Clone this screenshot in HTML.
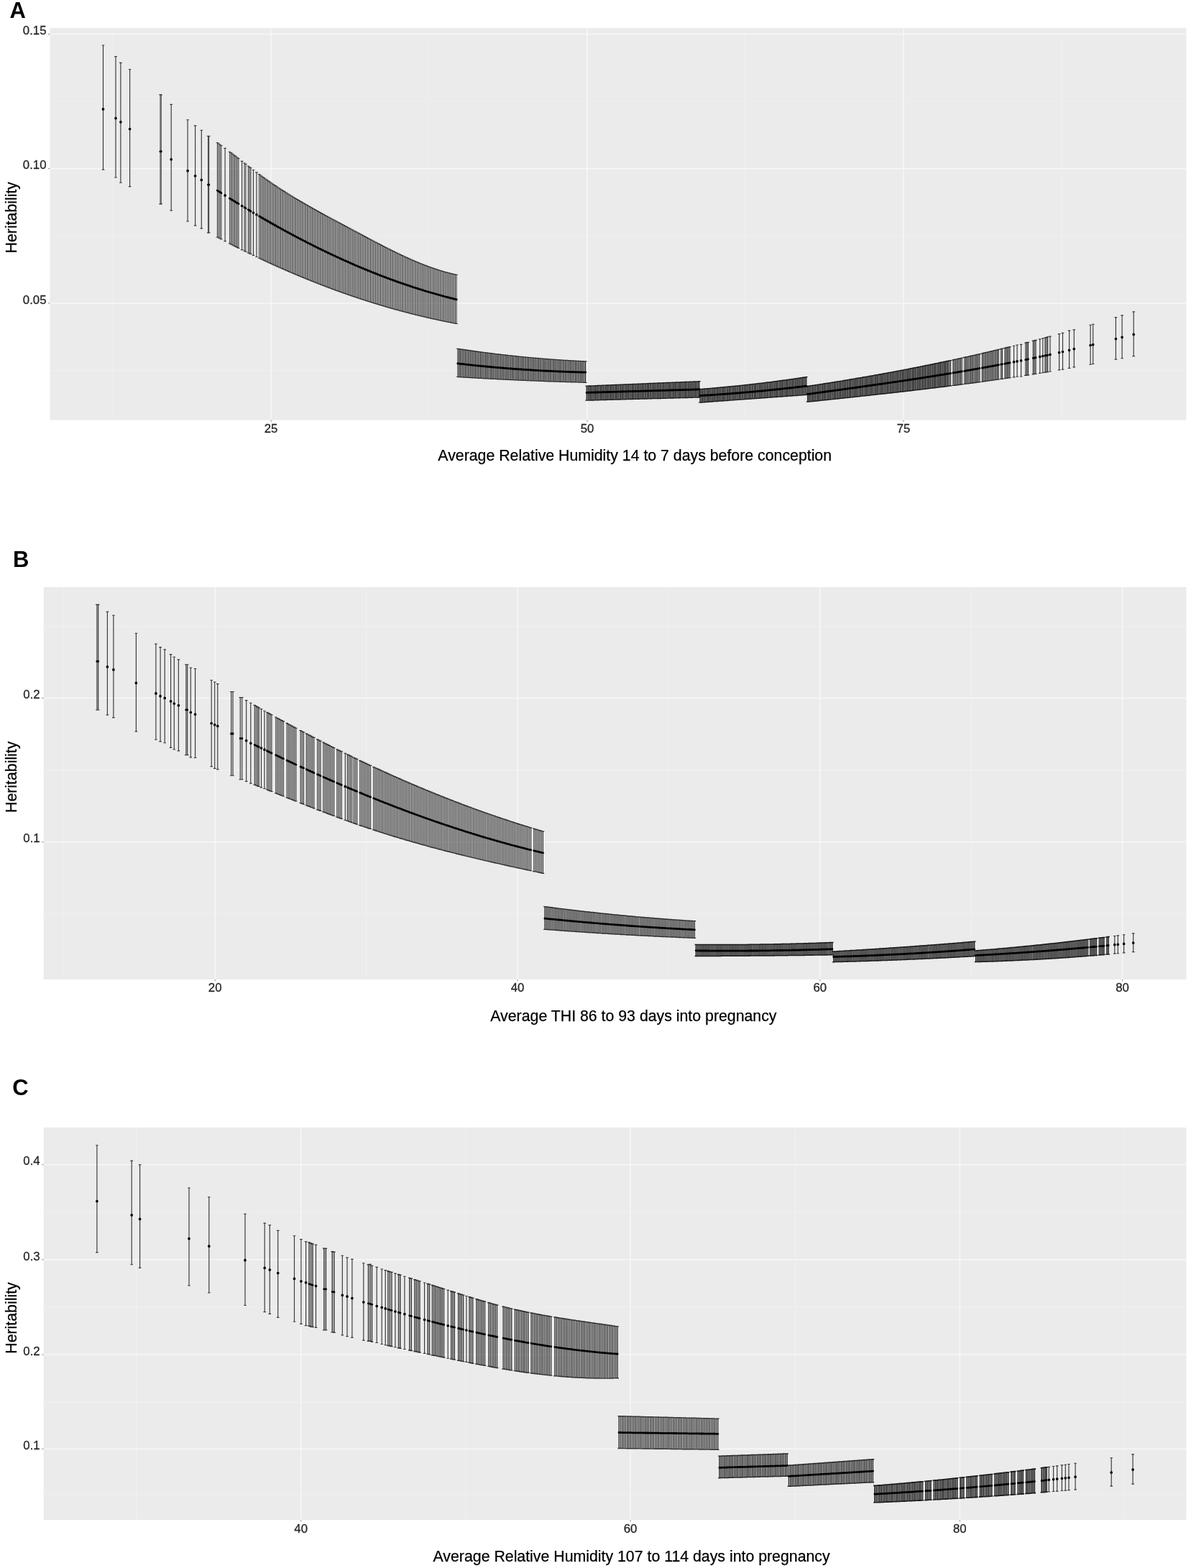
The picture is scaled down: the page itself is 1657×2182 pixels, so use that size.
<!DOCTYPE html>
<html><head><meta charset="utf-8"><title>Heritability figure</title>
<style>
html,body{margin:0;padding:0;background:#fff}
svg{display:block}
text{font-family:"Liberation Sans",sans-serif}
.t{font-size:16.8px;fill:#262626;stroke:#262626;stroke-width:0.3px}
.a{font-size:21.3px;fill:#000;stroke:#000;stroke-width:0.25px}
.L{font-size:31px;font-weight:bold;fill:#000}
</style></head><body>
<svg width="1657" height="2182" viewBox="0 0 1657 2182">
<rect width="1657" height="2182" fill="#fff"/>
<rect x="69.5" y="38.8" width="1580.9" height="545.8" fill="#ebebeb"/>
<path d="M157.1 38.8V584.6M597.1 38.8V584.6M1037 38.8V584.6M1477 38.8V584.6M69.5 515.5H1650.4M69.5 328.3H1650.4M69.5 141.1H1650.4" stroke="#f1f1f1" stroke-width="0.8" fill="none"/>
<path d="M377.1 38.8V584.6M817 38.8V584.6M1257 38.8V584.6M69.5 421.9H1650.4M69.5 234.7H1650.4M69.5 47.5H1650.4" stroke="#f7f7f7" stroke-width="1.5" fill="none"/>
<path d="M377.1 584.6v2.4M817 584.6v2.4M1257 584.6v2.4M69.5 421.9h-2.4M69.5 234.7h-2.4M69.5 47.5h-2.4" stroke="#888" stroke-width="1" fill="none"/>
<path d="M143.5 63V236.1M161 78.6V247M167.9 87.4V254.2M180.6 96.5V259.6M238.2 145.4V292.9M261.1 166.7V308M271.6 174.9V313.8M280.3 181.2V317.9M313.1 206.4V335.6M336.6 224.3V347.6M352.5 236.5V355.4M357 239.9V357.5M1410.6 481.2V524.9M1415.1 480V524.2M1420.6 479.3V524M1446.8 471.9V519.3M1450.8 470.8V518.7M1461 468.1V517M1473.6 464.6V514.9M1478.5 463.3V514.1M1487.6 460.1V512.3M1494.3 458.8V510.8M1517.1 452.2V507.2M1520.7 451.2V506.5M1552.4 441.6V500.1M1561.1 438.9V498.7M1577.2 433.9V495.6M141.7 63h3.6M141.7 236.1h3.6M159.2 78.6h3.6M159.2 247h3.6M166.1 87.4h3.6M166.1 254.2h3.6M178.8 96.5h3.6M178.8 259.6h3.6M236.4 145.4h3.6M236.4 292.9h3.6M259.3 166.7h3.6M259.3 308h3.6M269.8 174.9h3.6M269.8 313.8h3.6M278.5 181.2h3.6M278.5 317.9h3.6M311.3 206.4h3.6M311.3 335.6h3.6M334.8 224.3h3.6M334.8 347.6h3.6M350.7 236.5h3.6M350.7 355.4h3.6M355.2 239.9h3.6M355.2 357.5h3.6M1408.8 481.2h3.6M1408.8 524.9h3.6M1413.3 480h3.6M1413.3 524.2h3.6M1418.8 479.3h3.6M1418.8 524h3.6M1445 471.9h3.6M1445 519.3h3.6M1449 470.8h3.6M1449 518.7h3.6M1459.2 468.1h3.6M1459.2 517h3.6M1471.8 464.6h3.6M1471.8 514.9h3.6M1476.7 463.3h3.6M1476.7 514.1h3.6M1485.8 460.1h3.6M1485.8 512.3h3.6M1492.5 458.8h3.6M1492.5 510.8h3.6M1515.3 452.2h3.6M1515.3 507.2h3.6M1518.9 451.2h3.6M1518.9 506.5h3.6M1550.6 441.6h3.6M1550.6 500.1h3.6M1559.3 438.9h3.6M1559.3 498.7h3.6M1575.4 433.9h3.6M1575.4 495.6h3.6" stroke="#383838" stroke-width="1.15" fill="none"/>
<path d="M223 131.8V283.9M224.2 131.8V283.9M289.6 189.4V323.9M290.7 189.4V323.9M302.4 198.6V330M304.2 199.9V331M306 201.3V331.9M307.8 202.6V332.9M319.6 211.3V339M321.4 212.6V339.9M323.1 213.9V340.8M324.9 215.2V341.7M326.6 216.6V342.6M328.4 217.9V343.5M330.2 219.3V344.4M331.9 220.6V345.3M340.1 227V349.3M341.9 228.4V350.2M345.4 231.1V351.9M347.2 232.5V352.8M348.9 233.8V353.6M360.6 242.6V359.2M362.4 243.9V360M364.1 245.2V360.9M365.9 246.4V361.7M367.6 247.7V362.5M369.4 249V363.3M371.2 250.2V364.2M372.9 251.4V365M374.7 252.7V365.8M376.4 253.9V366.6M378.2 255.1V367.4M380 256.3V368.2M381.7 257.5V369M383.5 258.6V369.8M385.2 259.8V370.6M387 261V371.4M388.8 262.1V372.1M390.5 263.3V372.9M392.3 264.4V373.7M394 265.5V374.5M395.8 266.6V375.2M397.6 267.8V376M399.3 268.9V376.8M401.1 270V377.5M402.8 271.1V378.3M404.6 272.1V379.1M406.4 273.2V379.8M408.1 274.3V380.6M409.9 275.4V381.3M411.6 276.4V382.1M413.4 277.5V382.8M415.2 278.5V383.5M416.9 279.6V384.3M418.7 280.6V385M420.4 281.6V385.7M422.2 282.6V386.4M424 283.7V387.2M425.7 284.7V387.9M427.5 285.7V388.6M429.2 286.7V389.3M431 287.7V390M432.8 288.7V390.7M434.5 289.7V391.4M436.3 290.7V392.1M438 291.6V392.8M439.8 292.6V393.5M441.6 293.6V394.2M443.3 294.6V394.9M445.1 295.5V395.6M446.8 296.5V396.3M448.6 297.5V396.9M450.3 298.4V397.6M452.1 299.4V398.3M453.9 300.4V399M455.6 301.3V399.6M457.4 302.3V400.3M459.1 303.2V400.9M460.9 304.2V401.6M462.7 305.1V402.3M464.4 306V402.9M466.2 307V403.6M467.9 307.9V404.2M469.7 308.9V404.8M471.5 309.8V405.5M473.2 310.7V406.1M475 311.7V406.7M476.7 312.6V407.4M478.5 313.6V408M480.3 314.5V408.6M482 315.4V409.2M483.8 316.4V409.8M485.5 317.3V410.4M487.3 318.2V411.1M489.1 319.2V411.7M490.8 320.1V412.3M492.6 321.1V412.9M494.3 322V413.5M496.1 322.9V414M497.9 323.9V414.6M499.6 324.8V415.2M501.4 325.8V415.8M503.1 326.7V416.4M504.9 327.6V417M506.7 328.6V417.5M508.4 329.5V418.1M510.2 330.5V418.7M511.9 331.4V419.2M513.7 332.3V419.8M515.5 333.3V420.3M517.2 334.2V420.9M519 335.1V421.4M520.7 336.1V422M522.5 337V422.5M524.3 337.9V423.1M526 338.8V423.6M527.8 339.7V424.1M529.5 340.6V424.7M531.3 341.6V425.2M533.1 342.5V425.7M534.8 343.4V426.2M536.6 344.3V426.8M538.3 345.1V427.3M540.1 346V427.8M541.9 346.9V428.3M543.6 347.8V428.8M545.4 348.7V429.3M547.1 349.5V429.8M548.9 350.4V430.3M550.7 351.3V430.8M552.4 352.1V431.3M554.2 353V431.7M555.9 353.8V432.2M557.7 354.6V432.7M559.5 355.5V433.2M561.2 356.3V433.6M563 357.1V434.1M564.7 357.9V434.6M566.5 358.7V435M568.3 359.5V435.5M570 360.3V436M571.8 361.1V436.4M573.5 361.9V436.9M575.3 362.6V437.3M577.1 363.4V437.7M578.8 364.1V438.2M580.6 364.8V438.6M582.3 365.6V439M584.1 366.3V439.5M585.9 367V439.9M587.6 367.7V440.3M589.4 368.4V440.7M591.1 369.1V441.1M592.9 369.7V441.6M594.7 370.4V442M596.4 371.1V442.4M598.2 371.7V442.8M599.9 372.3V443.2M601.7 372.9V443.6M603.5 373.5V444M605.2 374.1V444.3M607 374.7V444.7M608.7 375.3V445.1M610.5 375.9V445.5M612.3 376.4V445.9M614 376.9V446.2M615.8 377.5V446.6M617.5 378V447M619.3 378.5V447.3M621.1 379V447.7M622.8 379.4V448M624.6 379.9V448.4M626.3 380.3V448.7M628.1 380.8V449.1M629.8 381.2V449.4M631.6 381.6V449.8M633.4 382V450.1M635.1 382.3V450.4M221.2 131.8h3.6M221.2 283.9h3.6M222.4 131.8h3.6M222.4 283.9h3.6M287.8 189.4h3.6M287.8 323.9h3.6M288.9 189.4h3.6M288.9 323.9h3.6M300.6 198.6h3.6M300.6 330h3.6M302.4 199.9h3.6M302.4 331h3.6M304.2 201.3h3.6M304.2 331.9h3.6M306 202.6h3.6M306 332.9h3.6M317.8 211.3h3.6M317.8 339h3.6M319.6 212.6h3.6M319.6 339.9h3.6M321.3 213.9h3.6M321.3 340.8h3.6M323.1 215.2h3.6M323.1 341.7h3.6M324.8 216.6h3.6M324.8 342.6h3.6M326.6 217.9h3.6M326.6 343.5h3.6M328.4 219.3h3.6M328.4 344.4h3.6M330.1 220.6h3.6M330.1 345.3h3.6M338.3 227h3.6M338.3 349.3h3.6M340.1 228.4h3.6M340.1 350.2h3.6M343.6 231.1h3.6M343.6 351.9h3.6M345.4 232.5h3.6M345.4 352.8h3.6M347.1 233.8h3.6M347.1 353.6h3.6M358.8 242.6h3.6M358.8 359.2h3.6M360.6 243.9h3.6M360.6 360h3.6M362.3 245.2h3.6M362.3 360.9h3.6M364.1 246.4h3.6M364.1 361.7h3.6M365.8 247.7h3.6M365.8 362.5h3.6M367.6 249h3.6M367.6 363.3h3.6M369.4 250.2h3.6M369.4 364.2h3.6M371.1 251.4h3.6M371.1 365h3.6M372.9 252.7h3.6M372.9 365.8h3.6M374.6 253.9h3.6M374.6 366.6h3.6M376.4 255.1h3.6M376.4 367.4h3.6M378.2 256.3h3.6M378.2 368.2h3.6M379.9 257.5h3.6M379.9 369h3.6M381.7 258.6h3.6M381.7 369.8h3.6M383.4 259.8h3.6M383.4 370.6h3.6M385.2 261h3.6M385.2 371.4h3.6M387 262.1h3.6M387 372.1h3.6M388.7 263.3h3.6M388.7 372.9h3.6M390.5 264.4h3.6M390.5 373.7h3.6M392.2 265.5h3.6M392.2 374.5h3.6M394 266.6h3.6M394 375.2h3.6M395.8 267.8h3.6M395.8 376h3.6M397.5 268.9h3.6M397.5 376.8h3.6M399.3 270h3.6M399.3 377.5h3.6M401 271.1h3.6M401 378.3h3.6M402.8 272.1h3.6M402.8 379.1h3.6M404.6 273.2h3.6M404.6 379.8h3.6M406.3 274.3h3.6M406.3 380.6h3.6M408.1 275.4h3.6M408.1 381.3h3.6M409.8 276.4h3.6M409.8 382.1h3.6M411.6 277.5h3.6M411.6 382.8h3.6M413.4 278.5h3.6M413.4 383.5h3.6M415.1 279.6h3.6M415.1 384.3h3.6M416.9 280.6h3.6M416.9 385h3.6M418.6 281.6h3.6M418.6 385.7h3.6M420.4 282.6h3.6M420.4 386.4h3.6M422.2 283.7h3.6M422.2 387.2h3.6M423.9 284.7h3.6M423.9 387.9h3.6M425.7 285.7h3.6M425.7 388.6h3.6M427.4 286.7h3.6M427.4 389.3h3.6M429.2 287.7h3.6M429.2 390h3.6M431 288.7h3.6M431 390.7h3.6M432.7 289.7h3.6M432.7 391.4h3.6M434.5 290.7h3.6M434.5 392.1h3.6M436.2 291.6h3.6M436.2 392.8h3.6M438 292.6h3.6M438 393.5h3.6M439.8 293.6h3.6M439.8 394.2h3.6M441.5 294.6h3.6M441.5 394.9h3.6M443.3 295.5h3.6M443.3 395.6h3.6M445 296.5h3.6M445 396.3h3.6M446.8 297.5h3.6M446.8 396.9h3.6M448.5 298.4h3.6M448.5 397.6h3.6M450.3 299.4h3.6M450.3 398.3h3.6M452.1 300.4h3.6M452.1 399h3.6M453.8 301.3h3.6M453.8 399.6h3.6M455.6 302.3h3.6M455.6 400.3h3.6M457.3 303.2h3.6M457.3 400.9h3.6M459.1 304.2h3.6M459.1 401.6h3.6M460.9 305.1h3.6M460.9 402.3h3.6M462.6 306h3.6M462.6 402.9h3.6M464.4 307h3.6M464.4 403.6h3.6M466.1 307.9h3.6M466.1 404.2h3.6M467.9 308.9h3.6M467.9 404.8h3.6M469.7 309.8h3.6M469.7 405.5h3.6M471.4 310.7h3.6M471.4 406.1h3.6M473.2 311.7h3.6M473.2 406.7h3.6M474.9 312.6h3.6M474.9 407.4h3.6M476.7 313.6h3.6M476.7 408h3.6M478.5 314.5h3.6M478.5 408.6h3.6M480.2 315.4h3.6M480.2 409.2h3.6M482 316.4h3.6M482 409.8h3.6M483.7 317.3h3.6M483.7 410.4h3.6M485.5 318.2h3.6M485.5 411.1h3.6M487.3 319.2h3.6M487.3 411.7h3.6M489 320.1h3.6M489 412.3h3.6M490.8 321.1h3.6M490.8 412.9h3.6M492.5 322h3.6M492.5 413.5h3.6M494.3 322.9h3.6M494.3 414h3.6M496.1 323.9h3.6M496.1 414.6h3.6M497.8 324.8h3.6M497.8 415.2h3.6M499.6 325.8h3.6M499.6 415.8h3.6M501.3 326.7h3.6M501.3 416.4h3.6M503.1 327.6h3.6M503.1 417h3.6M504.9 328.6h3.6M504.9 417.5h3.6M506.6 329.5h3.6M506.6 418.1h3.6M508.4 330.5h3.6M508.4 418.7h3.6M510.1 331.4h3.6M510.1 419.2h3.6M511.9 332.3h3.6M511.9 419.8h3.6M513.7 333.3h3.6M513.7 420.3h3.6M515.4 334.2h3.6M515.4 420.9h3.6M517.2 335.1h3.6M517.2 421.4h3.6M518.9 336.1h3.6M518.9 422h3.6M520.7 337h3.6M520.7 422.5h3.6M522.5 337.9h3.6M522.5 423.1h3.6M524.2 338.8h3.6M524.2 423.6h3.6M526 339.7h3.6M526 424.1h3.6M527.7 340.6h3.6M527.7 424.7h3.6M529.5 341.6h3.6M529.5 425.2h3.6M531.3 342.5h3.6M531.3 425.7h3.6M533 343.4h3.6M533 426.2h3.6M534.8 344.3h3.6M534.8 426.8h3.6M536.5 345.1h3.6M536.5 427.3h3.6M538.3 346h3.6M538.3 427.8h3.6M540.1 346.9h3.6M540.1 428.3h3.6M541.8 347.8h3.6M541.8 428.8h3.6M543.6 348.7h3.6M543.6 429.3h3.6M545.3 349.5h3.6M545.3 429.8h3.6M547.1 350.4h3.6M547.1 430.3h3.6M548.9 351.3h3.6M548.9 430.8h3.6M550.6 352.1h3.6M550.6 431.3h3.6M552.4 353h3.6M552.4 431.7h3.6M554.1 353.8h3.6M554.1 432.2h3.6M555.9 354.6h3.6M555.9 432.7h3.6M557.7 355.5h3.6M557.7 433.2h3.6M559.4 356.3h3.6M559.4 433.6h3.6M561.2 357.1h3.6M561.2 434.1h3.6M562.9 357.9h3.6M562.9 434.6h3.6M564.7 358.7h3.6M564.7 435h3.6M566.5 359.5h3.6M566.5 435.5h3.6M568.2 360.3h3.6M568.2 436h3.6M570 361.1h3.6M570 436.4h3.6M571.7 361.9h3.6M571.7 436.9h3.6M573.5 362.6h3.6M573.5 437.3h3.6M575.3 363.4h3.6M575.3 437.7h3.6M577 364.1h3.6M577 438.2h3.6M578.8 364.8h3.6M578.8 438.6h3.6M580.5 365.6h3.6M580.5 439h3.6M582.3 366.3h3.6M582.3 439.5h3.6M584.1 367h3.6M584.1 439.9h3.6M585.8 367.7h3.6M585.8 440.3h3.6M587.6 368.4h3.6M587.6 440.7h3.6M589.3 369.1h3.6M589.3 441.1h3.6M591.1 369.7h3.6M591.1 441.6h3.6M592.9 370.4h3.6M592.9 442h3.6M594.6 371.1h3.6M594.6 442.4h3.6M596.4 371.7h3.6M596.4 442.8h3.6M598.1 372.3h3.6M598.1 443.2h3.6M599.9 372.9h3.6M599.9 443.6h3.6M601.7 373.5h3.6M601.7 444h3.6M603.4 374.1h3.6M603.4 444.3h3.6M605.2 374.7h3.6M605.2 444.7h3.6M606.9 375.3h3.6M606.9 445.1h3.6M608.7 375.9h3.6M608.7 445.5h3.6M610.5 376.4h3.6M610.5 445.9h3.6M612.2 376.9h3.6M612.2 446.2h3.6M614 377.5h3.6M614 446.6h3.6M615.7 378h3.6M615.7 447h3.6M617.5 378.5h3.6M617.5 447.3h3.6M619.3 379h3.6M619.3 447.7h3.6M621 379.4h3.6M621 448h3.6M622.8 379.9h3.6M622.8 448.4h3.6M624.5 380.3h3.6M624.5 448.7h3.6M626.3 380.8h3.6M626.3 449.1h3.6M628 381.2h3.6M628 449.4h3.6M629.8 381.6h3.6M629.8 449.8h3.6M631.6 382h3.6M631.6 450.1h3.6M633.3 382.3h3.6M633.3 450.4h3.6" stroke="#333" stroke-width="1.0" fill="none"/>
<path d="M636.9 485.2V524.5M638.7 485.5V524.6M640.4 485.8V524.7M642.2 486V524.8M643.9 486.3V524.9M645.7 486.6V525.1M647.5 486.8V525.2M649.2 487.1V525.3M651 487.3V525.4M652.7 487.6V525.5M654.5 487.8V525.6M656.3 488.1V525.7M658 488.3V525.8M659.8 488.6V525.9M661.5 488.8V526M663.3 489.1V526.1M665.1 489.3V526.2M666.8 489.5V526.3M668.6 489.8V526.4M670.3 490V526.5M672.1 490.2V526.6M673.9 490.5V526.7M675.6 490.7V526.8M677.4 490.9V526.9M679.1 491.2V527M680.9 491.4V527.1M682.7 491.6V527.2M684.4 491.8V527.3M686.2 492V527.3M687.9 492.2V527.4M689.7 492.5V527.5M691.5 492.7V527.6M693.2 492.9V527.7M695 493.1V527.8M696.7 493.3V527.9M698.5 493.5V528M700.3 493.7V528.1M702 493.9V528.1M703.8 494.1V528.2M705.5 494.3V528.3M707.3 494.5V528.4M709.1 494.7V528.5M710.8 494.9V528.6M712.6 495.1V528.7M714.3 495.2V528.7M716.1 495.4V528.8M717.9 495.6V528.9M719.6 495.8V529M721.4 496V529.1M723.1 496.2V529.1M724.9 496.3V529.2M726.6 496.5V529.3M728.4 496.7V529.4M730.2 496.8V529.4M731.9 497V529.5M733.7 497.2V529.6M735.4 497.3V529.7M737.2 497.5V529.7M739 497.7V529.8M740.7 497.8V529.9M742.5 498V530M744.2 498.1V530M746 498.3V530.1M747.8 498.4V530.2M749.5 498.6V530.2M751.3 498.7V530.3M753 498.9V530.4M754.8 499V530.4M756.6 499.2V530.5M758.3 499.3V530.6M760.1 499.4V530.6M761.8 499.6V530.7M763.6 499.7V530.8M765.4 499.8V530.8M767.1 500V530.9M768.9 500.1V530.9M770.6 500.2V531M772.4 500.4V531.1M774.2 500.5V531.1M775.9 500.6V531.2M777.7 500.7V531.2M779.4 500.8V531.3M781.2 501V531.4M783 501.1V531.4M784.7 501.2V531.5M786.5 501.3V531.5M788.2 501.4V531.6M790 501.5V531.6M791.8 501.6V531.7M793.5 501.7V531.7M795.3 501.8V531.8M797 501.9V531.8M798.8 502V531.9M800.6 502.1V531.9M802.3 502.2V532M804.1 502.3V532M805.8 502.4V532.1M807.6 502.5V532.1M809.4 502.5V532.2M811.1 502.6V532.2M812.9 502.7V532.3M814.6 502.8V532.3M1320.7 501.9V537.2M1322.5 501.6V536.9M1326 500.8V536.5M1327.7 500.4V536.3M1329.5 500V536.1M1331.3 499.7V535.8M1333 499.3V535.6M1334.8 498.9V535.4M1336.5 498.5V535.1M1338.3 498.1V534.9M1341.8 497.3V534.5M1343.6 496.9V534.2M1345.3 496.6V534M1347.1 496.2V533.8M1348.9 495.8V533.5M1350.6 495.4V533.3M1352.4 495V533.1M1354.1 494.6V532.8M1355.9 494.2V532.6M1357.7 493.8V532.4M1359.4 493.4V532.1M1361.2 493V531.9M1362.9 492.6V531.7M1366.5 491.8V531.2M1368.2 491.3V530.9M1370 490.9V530.7M1371.7 490.5V530.4M1373.5 490.1V530.2M1375.3 489.7V530M1377 489.3V529.7M1378.8 488.9V529.5M1380.5 488.5V529.2M1382.3 488V529M1384.1 487.6V528.7M1385.8 487.2V528.5M1387.6 486.8V528.2M1389.3 486.4V528M1392.7 485.6V527.5M1394.4 485.1V527.3M1398 484.3V526.7M1399.8 483.8V526.5M1401.5 483.4V526.2M1403.3 483V526M1405 482.5V525.7M1426.9 477V522.4M1428.7 476.6V522.2M1430.4 476.2V521.9M1437.4 474.3V520.8M1439.2 473.9V520.5M1441 473.4V520.2M1454 470V518.1M1455.8 469.5V517.9M1457.6 468.8V517.7M635.1 485.2h3.6M635.1 524.5h3.6M636.9 485.5h3.6M636.9 524.6h3.6M638.6 485.8h3.6M638.6 524.7h3.6M640.4 486h3.6M640.4 524.8h3.6M642.1 486.3h3.6M642.1 524.9h3.6M643.9 486.6h3.6M643.9 525.1h3.6M645.7 486.8h3.6M645.7 525.2h3.6M647.4 487.1h3.6M647.4 525.3h3.6M649.2 487.3h3.6M649.2 525.4h3.6M650.9 487.6h3.6M650.9 525.5h3.6M652.7 487.8h3.6M652.7 525.6h3.6M654.5 488.1h3.6M654.5 525.7h3.6M656.2 488.3h3.6M656.2 525.8h3.6M658 488.6h3.6M658 525.9h3.6M659.7 488.8h3.6M659.7 526h3.6M661.5 489.1h3.6M661.5 526.1h3.6M663.3 489.3h3.6M663.3 526.2h3.6M665 489.5h3.6M665 526.3h3.6M666.8 489.8h3.6M666.8 526.4h3.6M668.5 490h3.6M668.5 526.5h3.6M670.3 490.2h3.6M670.3 526.6h3.6M672.1 490.5h3.6M672.1 526.7h3.6M673.8 490.7h3.6M673.8 526.8h3.6M675.6 490.9h3.6M675.6 526.9h3.6M677.3 491.2h3.6M677.3 527h3.6M679.1 491.4h3.6M679.1 527.1h3.6M680.9 491.6h3.6M680.9 527.2h3.6M682.6 491.8h3.6M682.6 527.3h3.6M684.4 492h3.6M684.4 527.3h3.6M686.1 492.2h3.6M686.1 527.4h3.6M687.9 492.5h3.6M687.9 527.5h3.6M689.7 492.7h3.6M689.7 527.6h3.6M691.4 492.9h3.6M691.4 527.7h3.6M693.2 493.1h3.6M693.2 527.8h3.6M694.9 493.3h3.6M694.9 527.9h3.6M696.7 493.5h3.6M696.7 528h3.6M698.5 493.7h3.6M698.5 528.1h3.6M700.2 493.9h3.6M700.2 528.1h3.6M702 494.1h3.6M702 528.2h3.6M703.7 494.3h3.6M703.7 528.3h3.6M705.5 494.5h3.6M705.5 528.4h3.6M707.3 494.7h3.6M707.3 528.5h3.6M709 494.9h3.6M709 528.6h3.6M710.8 495.1h3.6M710.8 528.7h3.6M712.5 495.2h3.6M712.5 528.7h3.6M714.3 495.4h3.6M714.3 528.8h3.6M716.1 495.6h3.6M716.1 528.9h3.6M717.8 495.8h3.6M717.8 529h3.6M719.6 496h3.6M719.6 529.1h3.6M721.3 496.2h3.6M721.3 529.1h3.6M723.1 496.3h3.6M723.1 529.2h3.6M724.8 496.5h3.6M724.8 529.3h3.6M726.6 496.7h3.6M726.6 529.4h3.6M728.4 496.8h3.6M728.4 529.4h3.6M730.1 497h3.6M730.1 529.5h3.6M731.9 497.2h3.6M731.9 529.6h3.6M733.6 497.3h3.6M733.6 529.7h3.6M735.4 497.5h3.6M735.4 529.7h3.6M737.2 497.7h3.6M737.2 529.8h3.6M738.9 497.8h3.6M738.9 529.9h3.6M740.7 498h3.6M740.7 530h3.6M742.4 498.1h3.6M742.4 530h3.6M744.2 498.3h3.6M744.2 530.1h3.6M746 498.4h3.6M746 530.2h3.6M747.7 498.6h3.6M747.7 530.2h3.6M749.5 498.7h3.6M749.5 530.3h3.6M751.2 498.9h3.6M751.2 530.4h3.6M753 499h3.6M753 530.4h3.6M754.8 499.2h3.6M754.8 530.5h3.6M756.5 499.3h3.6M756.5 530.6h3.6M758.3 499.4h3.6M758.3 530.6h3.6M760 499.6h3.6M760 530.7h3.6M761.8 499.7h3.6M761.8 530.8h3.6M763.6 499.8h3.6M763.6 530.8h3.6M765.3 500h3.6M765.3 530.9h3.6M767.1 500.1h3.6M767.1 530.9h3.6M768.8 500.2h3.6M768.8 531h3.6M770.6 500.4h3.6M770.6 531.1h3.6M772.4 500.5h3.6M772.4 531.1h3.6M774.1 500.6h3.6M774.1 531.2h3.6M775.9 500.7h3.6M775.9 531.2h3.6M777.6 500.8h3.6M777.6 531.3h3.6M779.4 501h3.6M779.4 531.4h3.6M781.2 501.1h3.6M781.2 531.4h3.6M782.9 501.2h3.6M782.9 531.5h3.6M784.7 501.3h3.6M784.7 531.5h3.6M786.4 501.4h3.6M786.4 531.6h3.6M788.2 501.5h3.6M788.2 531.6h3.6M790 501.6h3.6M790 531.7h3.6M791.7 501.7h3.6M791.7 531.7h3.6M793.5 501.8h3.6M793.5 531.8h3.6M795.2 501.9h3.6M795.2 531.8h3.6M797 502h3.6M797 531.9h3.6M798.8 502.1h3.6M798.8 531.9h3.6M800.5 502.2h3.6M800.5 532h3.6M802.3 502.3h3.6M802.3 532h3.6M804 502.4h3.6M804 532.1h3.6M805.8 502.5h3.6M805.8 532.1h3.6M807.6 502.5h3.6M807.6 532.2h3.6M809.3 502.6h3.6M809.3 532.2h3.6M811.1 502.7h3.6M811.1 532.3h3.6M812.8 502.8h3.6M812.8 532.3h3.6M1318.9 501.9h3.6M1318.9 537.2h3.6M1320.7 501.6h3.6M1320.7 536.9h3.6M1324.2 500.8h3.6M1324.2 536.5h3.6M1325.9 500.4h3.6M1325.9 536.3h3.6M1327.7 500h3.6M1327.7 536.1h3.6M1329.5 499.7h3.6M1329.5 535.8h3.6M1331.2 499.3h3.6M1331.2 535.6h3.6M1333 498.9h3.6M1333 535.4h3.6M1334.7 498.5h3.6M1334.7 535.1h3.6M1336.5 498.1h3.6M1336.5 534.9h3.6M1340 497.3h3.6M1340 534.5h3.6M1341.8 496.9h3.6M1341.8 534.2h3.6M1343.5 496.6h3.6M1343.5 534h3.6M1345.3 496.2h3.6M1345.3 533.8h3.6M1347.1 495.8h3.6M1347.1 533.5h3.6M1348.8 495.4h3.6M1348.8 533.3h3.6M1350.6 495h3.6M1350.6 533.1h3.6M1352.3 494.6h3.6M1352.3 532.8h3.6M1354.1 494.2h3.6M1354.1 532.6h3.6M1355.9 493.8h3.6M1355.9 532.4h3.6M1357.6 493.4h3.6M1357.6 532.1h3.6M1359.4 493h3.6M1359.4 531.9h3.6M1361.1 492.6h3.6M1361.1 531.7h3.6M1364.7 491.8h3.6M1364.7 531.2h3.6M1366.4 491.3h3.6M1366.4 530.9h3.6M1368.2 490.9h3.6M1368.2 530.7h3.6M1369.9 490.5h3.6M1369.9 530.4h3.6M1371.7 490.1h3.6M1371.7 530.2h3.6M1373.5 489.7h3.6M1373.5 530h3.6M1375.2 489.3h3.6M1375.2 529.7h3.6M1377 488.9h3.6M1377 529.5h3.6M1378.7 488.5h3.6M1378.7 529.2h3.6M1380.5 488h3.6M1380.5 529h3.6M1382.3 487.6h3.6M1382.3 528.7h3.6M1384 487.2h3.6M1384 528.5h3.6M1385.8 486.8h3.6M1385.8 528.2h3.6M1387.5 486.4h3.6M1387.5 528h3.6M1390.9 485.6h3.6M1390.9 527.5h3.6M1392.6 485.1h3.6M1392.6 527.3h3.6M1396.2 484.3h3.6M1396.2 526.7h3.6M1398 483.8h3.6M1398 526.5h3.6M1399.7 483.4h3.6M1399.7 526.2h3.6M1401.5 483h3.6M1401.5 526h3.6M1403.2 482.5h3.6M1403.2 525.7h3.6M1425.1 477h3.6M1425.1 522.4h3.6M1426.9 476.6h3.6M1426.9 522.2h3.6M1428.6 476.2h3.6M1428.6 521.9h3.6M1435.6 474.3h3.6M1435.6 520.8h3.6M1437.4 473.9h3.6M1437.4 520.5h3.6M1439.2 473.4h3.6M1439.2 520.2h3.6M1452.2 470h3.6M1452.2 518.1h3.6M1454 469.5h3.6M1454 517.9h3.6M1455.8 468.8h3.6M1455.8 517.7h3.6" stroke="#2a2a2a" stroke-width="1.15" fill="none"/>
<path d="M816.2 537.2V557.2M818 537.1V557.1M819.7 537V557.1M821.5 537V557.1M823.2 536.9V557M825 536.8V557M826.8 536.8V556.9M828.5 536.7V556.9M830.3 536.6V556.8M832 536.5V556.8M833.8 536.5V556.7M835.6 536.4V556.7M837.3 536.3V556.6M839.1 536.2V556.6M840.8 536.2V556.5M842.6 536.1V556.5M844.4 536V556.4M846.1 536V556.4M847.9 535.9V556.3M849.6 535.8V556.3M851.4 535.7V556.3M853.2 535.7V556.2M854.9 535.6V556.2M856.7 535.5V556.1M858.4 535.4V556.1M860.2 535.4V556M862 535.3V556M863.7 535.2V555.9M865.5 535.1V555.9M867.2 535.1V555.8M869 535V555.8M870.8 534.9V555.7M872.5 534.9V555.7M874.3 534.8V555.6M876 534.7V555.6M877.8 534.6V555.5M879.6 534.6V555.5M881.3 534.5V555.4M883.1 534.4V555.4M884.8 534.3V555.4M886.6 534.3V555.3M888.4 534.2V555.3M890.1 534.1V555.2M891.9 534.1V555.2M893.6 534V555.1M895.4 533.9V555.1M897.2 533.8V555M898.9 533.8V555M900.7 533.7V554.9M902.4 533.6V554.9M904.2 533.5V554.8M905.9 533.5V554.8M907.7 533.4V554.7M909.5 533.3V554.7M911.2 533.2V554.6M913 533.2V554.6M914.7 533.1V554.6M916.5 533V554.5M918.3 533V554.5M920 532.9V554.4M921.8 532.8V554.4M923.5 532.7V554.3M925.3 532.7V554.3M927.1 532.6V554.2M928.8 532.5V554.2M930.6 532.4V554.1M932.3 532.4V554.1M934.1 532.3V554M935.9 532.2V554M937.6 532.2V553.9M939.4 532.1V553.9M941.1 532V553.8M942.9 531.9V553.8M944.7 531.9V553.8M946.4 531.8V553.7M948.2 531.7V553.7M949.9 531.6V553.6M951.7 531.6V553.6M953.5 531.5V553.5M955.2 531.4V553.5M957 531.4V553.4M958.7 531.3V553.4M960.5 531.2V553.3M962.3 531.1V553.3M964 531.1V553.2M965.8 531V553.2M967.5 530.9V553.1M969.3 530.8V553.1M971.1 530.8V553M972.8 530.7V553M974 541.5V560.1M975.8 541.4V560M977.5 541.3V559.9M979.3 541.1V559.8M981 541V559.6M982.8 540.9V559.5M984.6 540.7V559.4M986.3 540.6V559.3M988.1 540.4V559.1M989.8 540.3V559M991.6 540.1V558.9M993.4 540V558.7M995.1 539.8V558.6M996.9 539.7V558.5M998.6 539.5V558.4M1000.4 539.4V558.2M1002.2 539.2V558.1M1003.9 539V558M1005.7 538.9V557.8M1007.4 538.7V557.7M1009.2 538.5V557.6M1011 538.4V557.5M1012.7 538.2V557.3M1014.5 538V557.2M1016.2 537.9V557.1M1018 537.7V556.9M1019.8 537.5V556.8M1021.5 537.3V556.7M1023.3 537.2V556.6M1025 537V556.4M1026.8 536.8V556.3M1028.6 536.6V556.2M1030.3 536.4V556.1M1032.1 536.3V555.9M1033.8 536.1V555.8M1035.6 535.9V555.7M1037.4 535.7V555.5M1039.1 535.5V555.4M1040.9 535.3V555.3M1042.6 535.1V555.2M1044.4 534.9V555M1046.2 534.7V554.9M1047.9 534.5V554.8M1049.7 534.3V554.6M1051.4 534.1V554.5M1053.2 533.9V554.4M1055 533.7V554.3M1056.7 533.5V554.1M1058.5 533.3V554M1060.2 533.1V553.9M1062 532.9V553.8M1063.7 532.6V553.6M1065.5 532.4V553.5M1067.3 532.2V553.4M1069 532V553.2M1070.8 531.8V553.1M1072.5 531.6V553M1074.3 531.3V552.9M1076.1 531.1V552.7M1077.8 530.9V552.6M1079.6 530.6V552.5M1081.3 530.4V552.4M1083.1 530.2V552.2M1084.9 530V552.1M1086.6 529.7V552M1088.4 529.5V551.8M1090.1 529.2V551.7M1091.9 529V551.6M1093.7 528.8V551.5M1095.4 528.5V551.3M1097.2 528.3V551.2M1098.9 528V551.1M1100.7 527.8V551M1102.5 527.5V550.8M1104.2 527.3V550.7M1106 527V550.6M1107.7 526.8V550.5M1109.5 526.5V550.3M1111.3 526.3V550.2M1113 526V550.1M1114.8 525.7V549.9M1116.5 525.5V549.8M1118.3 525.2V549.7M1120.1 525V549.6M1121.8 524.7V549.4M1123.6 537.5V559.2M1125.4 537.2V559.1M1127.1 537V558.9M1128.9 536.7V558.7M1130.6 536.4V558.5M1132.4 536.2V558.3M1134.2 535.9V558.1M1135.9 535.6V558M1137.7 535.4V557.8M1139.4 535.1V557.6M1141.2 534.8V557.4M1143 534.5V557.2M1144.7 534.3V557M1146.5 534V556.9M1148.2 533.7V556.7M1150 533.4V556.5M1151.8 533.2V556.3M1153.5 532.9V556.1M1155.3 532.6V555.9M1157 532.3V555.7M1158.8 532V555.6M1160.6 531.8V555.4M1162.3 531.5V555.2M1164.1 531.2V555M1165.8 530.9V554.8M1167.6 530.6V554.6M1169.4 530.3V554.4M1171.1 530.1V554.3M1172.9 529.8V554.1M1174.6 529.5V553.9M1176.4 529.2V553.7M1178.2 528.9V553.5M1179.9 528.6V553.3M1181.7 528.3V553.1M1183.4 528V552.9M1185.2 527.7V552.8M1187 527.4V552.6M1188.7 527.1V552.4M1190.5 526.8V552.2M1192.2 526.5V552M1194 526.2V551.8M1195.8 525.9V551.6M1197.5 525.6V551.4M1199.3 525.3V551.2M1201 525V551.1M1202.8 524.7V550.9M1204.6 524.4V550.7M1206.3 524.1V550.5M1208.1 523.8V550.3M1209.8 523.5V550.1M1211.6 523.2V549.9M1213.3 522.9V549.7M1215.1 522.6V549.5M1216.9 522.2V549.3M1218.6 521.9V549.1M1220.4 521.6V548.9M1222.1 521.3V548.7M1223.9 521V548.5M1225.7 520.7V548.4M1227.4 520.3V548.2M1229.2 520V548M1230.9 519.7V547.8M1232.7 519.4V547.6M1234.5 519.1V547.4M1236.2 518.7V547.2M1238 518.4V547M1239.7 518.1V546.8M1241.5 517.8V546.6M1243.3 517.4V546.4M1245 517.1V546.2M1246.8 516.8V546M1248.5 516.4V545.8M1250.3 516.1V545.6M1252.1 515.8V545.4M1253.8 515.4V545.2M1255.6 515.1V545M1257.3 514.8V544.8M1259.1 514.4V544.6M1260.9 514.1V544.4M1262.6 513.8V544.2M1264.4 513.4V544M1266.1 513.1V543.8M1267.9 512.7V543.6M1269.7 512.4V543.4M1271.4 512V543.1M1273.2 511.7V542.9M1274.9 511.3V542.7M1276.7 511V542.5M1278.5 510.6V542.3M1280.2 510.3V542.1M1282 509.9V541.9M1283.7 509.6V541.7M1285.5 509.2V541.5M1287.3 508.9V541.3M1289 508.5V541.1M1290.8 508.2V540.9M1292.5 507.8V540.6M1294.3 507.5V540.4M1296.1 507.1V540.2M1297.8 506.7V540M1299.6 506.4V539.8M1301.3 506V539.6M1303.1 505.6V539.4M1304.9 505.3V539.1M1306.6 504.9V538.9M1308.4 504.5V538.7M1310.1 504.2V538.5M1311.9 503.8V538.3M1313.7 503.4V538.1M1315.4 503.1V537.8M1317.2 502.7V537.6M1318.9 502.3V537.4M814.4 537.2h3.6M814.4 557.2h3.6M816.2 537.1h3.6M816.2 557.1h3.6M817.9 537h3.6M817.9 557.1h3.6M819.7 537h3.6M819.7 557.1h3.6M821.4 536.9h3.6M821.4 557h3.6M823.2 536.8h3.6M823.2 557h3.6M825 536.8h3.6M825 556.9h3.6M826.7 536.7h3.6M826.7 556.9h3.6M828.5 536.6h3.6M828.5 556.8h3.6M830.2 536.5h3.6M830.2 556.8h3.6M832 536.5h3.6M832 556.7h3.6M833.8 536.4h3.6M833.8 556.7h3.6M835.5 536.3h3.6M835.5 556.6h3.6M837.3 536.2h3.6M837.3 556.6h3.6M839 536.2h3.6M839 556.5h3.6M840.8 536.1h3.6M840.8 556.5h3.6M842.6 536h3.6M842.6 556.4h3.6M844.3 536h3.6M844.3 556.4h3.6M846.1 535.9h3.6M846.1 556.3h3.6M847.8 535.8h3.6M847.8 556.3h3.6M849.6 535.7h3.6M849.6 556.3h3.6M851.4 535.7h3.6M851.4 556.2h3.6M853.1 535.6h3.6M853.1 556.2h3.6M854.9 535.5h3.6M854.9 556.1h3.6M856.6 535.4h3.6M856.6 556.1h3.6M858.4 535.4h3.6M858.4 556h3.6M860.2 535.3h3.6M860.2 556h3.6M861.9 535.2h3.6M861.9 555.9h3.6M863.7 535.1h3.6M863.7 555.9h3.6M865.4 535.1h3.6M865.4 555.8h3.6M867.2 535h3.6M867.2 555.8h3.6M869 534.9h3.6M869 555.7h3.6M870.7 534.9h3.6M870.7 555.7h3.6M872.5 534.8h3.6M872.5 555.6h3.6M874.2 534.7h3.6M874.2 555.6h3.6M876 534.6h3.6M876 555.5h3.6M877.8 534.6h3.6M877.8 555.5h3.6M879.5 534.5h3.6M879.5 555.4h3.6M881.3 534.4h3.6M881.3 555.4h3.6M883 534.3h3.6M883 555.4h3.6M884.8 534.3h3.6M884.8 555.3h3.6M886.6 534.2h3.6M886.6 555.3h3.6M888.3 534.1h3.6M888.3 555.2h3.6M890.1 534.1h3.6M890.1 555.2h3.6M891.8 534h3.6M891.8 555.1h3.6M893.6 533.9h3.6M893.6 555.1h3.6M895.4 533.8h3.6M895.4 555h3.6M897.1 533.8h3.6M897.1 555h3.6M898.9 533.7h3.6M898.9 554.9h3.6M900.6 533.6h3.6M900.6 554.9h3.6M902.4 533.5h3.6M902.4 554.8h3.6M904.1 533.5h3.6M904.1 554.8h3.6M905.9 533.4h3.6M905.9 554.7h3.6M907.7 533.3h3.6M907.7 554.7h3.6M909.4 533.2h3.6M909.4 554.6h3.6M911.2 533.2h3.6M911.2 554.6h3.6M912.9 533.1h3.6M912.9 554.6h3.6M914.7 533h3.6M914.7 554.5h3.6M916.5 533h3.6M916.5 554.5h3.6M918.2 532.9h3.6M918.2 554.4h3.6M920 532.8h3.6M920 554.4h3.6M921.7 532.7h3.6M921.7 554.3h3.6M923.5 532.7h3.6M923.5 554.3h3.6M925.3 532.6h3.6M925.3 554.2h3.6M927 532.5h3.6M927 554.2h3.6M928.8 532.4h3.6M928.8 554.1h3.6M930.5 532.4h3.6M930.5 554.1h3.6M932.3 532.3h3.6M932.3 554h3.6M934.1 532.2h3.6M934.1 554h3.6M935.8 532.2h3.6M935.8 553.9h3.6M937.6 532.1h3.6M937.6 553.9h3.6M939.3 532h3.6M939.3 553.8h3.6M941.1 531.9h3.6M941.1 553.8h3.6M942.9 531.9h3.6M942.9 553.8h3.6M944.6 531.8h3.6M944.6 553.7h3.6M946.4 531.7h3.6M946.4 553.7h3.6M948.1 531.6h3.6M948.1 553.6h3.6M949.9 531.6h3.6M949.9 553.6h3.6M951.7 531.5h3.6M951.7 553.5h3.6M953.4 531.4h3.6M953.4 553.5h3.6M955.2 531.4h3.6M955.2 553.4h3.6M956.9 531.3h3.6M956.9 553.4h3.6M958.7 531.2h3.6M958.7 553.3h3.6M960.5 531.1h3.6M960.5 553.3h3.6M962.2 531.1h3.6M962.2 553.2h3.6M964 531h3.6M964 553.2h3.6M965.7 530.9h3.6M965.7 553.1h3.6M967.5 530.8h3.6M967.5 553.1h3.6M969.3 530.8h3.6M969.3 553h3.6M971 530.7h3.6M971 553h3.6M972.2 541.5h3.6M972.2 560.1h3.6M974 541.4h3.6M974 560h3.6M975.7 541.3h3.6M975.7 559.9h3.6M977.5 541.1h3.6M977.5 559.8h3.6M979.2 541h3.6M979.2 559.6h3.6M981 540.9h3.6M981 559.5h3.6M982.8 540.7h3.6M982.8 559.4h3.6M984.5 540.6h3.6M984.5 559.3h3.6M986.3 540.4h3.6M986.3 559.1h3.6M988 540.3h3.6M988 559h3.6M989.8 540.1h3.6M989.8 558.9h3.6M991.6 540h3.6M991.6 558.7h3.6M993.3 539.8h3.6M993.3 558.6h3.6M995.1 539.7h3.6M995.1 558.5h3.6M996.8 539.5h3.6M996.8 558.4h3.6M998.6 539.4h3.6M998.6 558.2h3.6M1000.4 539.2h3.6M1000.4 558.1h3.6M1002.1 539h3.6M1002.1 558h3.6M1003.9 538.9h3.6M1003.9 557.8h3.6M1005.6 538.7h3.6M1005.6 557.7h3.6M1007.4 538.5h3.6M1007.4 557.6h3.6M1009.2 538.4h3.6M1009.2 557.5h3.6M1010.9 538.2h3.6M1010.9 557.3h3.6M1012.7 538h3.6M1012.7 557.2h3.6M1014.4 537.9h3.6M1014.4 557.1h3.6M1016.2 537.7h3.6M1016.2 556.9h3.6M1018 537.5h3.6M1018 556.8h3.6M1019.7 537.3h3.6M1019.7 556.7h3.6M1021.5 537.2h3.6M1021.5 556.6h3.6M1023.2 537h3.6M1023.2 556.4h3.6M1025 536.8h3.6M1025 556.3h3.6M1026.8 536.6h3.6M1026.8 556.2h3.6M1028.5 536.4h3.6M1028.5 556.1h3.6M1030.3 536.3h3.6M1030.3 555.9h3.6M1032 536.1h3.6M1032 555.8h3.6M1033.8 535.9h3.6M1033.8 555.7h3.6M1035.6 535.7h3.6M1035.6 555.5h3.6M1037.3 535.5h3.6M1037.3 555.4h3.6M1039.1 535.3h3.6M1039.1 555.3h3.6M1040.8 535.1h3.6M1040.8 555.2h3.6M1042.6 534.9h3.6M1042.6 555h3.6M1044.4 534.7h3.6M1044.4 554.9h3.6M1046.1 534.5h3.6M1046.1 554.8h3.6M1047.9 534.3h3.6M1047.9 554.6h3.6M1049.6 534.1h3.6M1049.6 554.5h3.6M1051.4 533.9h3.6M1051.4 554.4h3.6M1053.2 533.7h3.6M1053.2 554.3h3.6M1054.9 533.5h3.6M1054.9 554.1h3.6M1056.7 533.3h3.6M1056.7 554h3.6M1058.4 533.1h3.6M1058.4 553.9h3.6M1060.2 532.9h3.6M1060.2 553.8h3.6M1061.9 532.6h3.6M1061.9 553.6h3.6M1063.7 532.4h3.6M1063.7 553.5h3.6M1065.5 532.2h3.6M1065.5 553.4h3.6M1067.2 532h3.6M1067.2 553.2h3.6M1069 531.8h3.6M1069 553.1h3.6M1070.7 531.6h3.6M1070.7 553h3.6M1072.5 531.3h3.6M1072.5 552.9h3.6M1074.3 531.1h3.6M1074.3 552.7h3.6M1076 530.9h3.6M1076 552.6h3.6M1077.8 530.6h3.6M1077.8 552.5h3.6M1079.5 530.4h3.6M1079.5 552.4h3.6M1081.3 530.2h3.6M1081.3 552.2h3.6M1083.1 530h3.6M1083.1 552.1h3.6M1084.8 529.7h3.6M1084.8 552h3.6M1086.6 529.5h3.6M1086.6 551.8h3.6M1088.3 529.2h3.6M1088.3 551.7h3.6M1090.1 529h3.6M1090.1 551.6h3.6M1091.9 528.8h3.6M1091.9 551.5h3.6M1093.6 528.5h3.6M1093.6 551.3h3.6M1095.4 528.3h3.6M1095.4 551.2h3.6M1097.1 528h3.6M1097.1 551.1h3.6M1098.9 527.8h3.6M1098.9 551h3.6M1100.7 527.5h3.6M1100.7 550.8h3.6M1102.4 527.3h3.6M1102.4 550.7h3.6M1104.2 527h3.6M1104.2 550.6h3.6M1105.9 526.8h3.6M1105.9 550.5h3.6M1107.7 526.5h3.6M1107.7 550.3h3.6M1109.5 526.3h3.6M1109.5 550.2h3.6M1111.2 526h3.6M1111.2 550.1h3.6M1113 525.7h3.6M1113 549.9h3.6M1114.7 525.5h3.6M1114.7 549.8h3.6M1116.5 525.2h3.6M1116.5 549.7h3.6M1118.3 525h3.6M1118.3 549.6h3.6M1120 524.7h3.6M1120 549.4h3.6M1121.8 537.5h3.6M1121.8 559.2h3.6M1123.6 537.2h3.6M1123.6 559.1h3.6M1125.3 537h3.6M1125.3 558.9h3.6M1127.1 536.7h3.6M1127.1 558.7h3.6M1128.8 536.4h3.6M1128.8 558.5h3.6M1130.6 536.2h3.6M1130.6 558.3h3.6M1132.4 535.9h3.6M1132.4 558.1h3.6M1134.1 535.6h3.6M1134.1 558h3.6M1135.9 535.4h3.6M1135.9 557.8h3.6M1137.6 535.1h3.6M1137.6 557.6h3.6M1139.4 534.8h3.6M1139.4 557.4h3.6M1141.2 534.5h3.6M1141.2 557.2h3.6M1142.9 534.3h3.6M1142.9 557h3.6M1144.7 534h3.6M1144.7 556.9h3.6M1146.4 533.7h3.6M1146.4 556.7h3.6M1148.2 533.4h3.6M1148.2 556.5h3.6M1150 533.2h3.6M1150 556.3h3.6M1151.7 532.9h3.6M1151.7 556.1h3.6M1153.5 532.6h3.6M1153.5 555.9h3.6M1155.2 532.3h3.6M1155.2 555.7h3.6M1157 532h3.6M1157 555.6h3.6M1158.8 531.8h3.6M1158.8 555.4h3.6M1160.5 531.5h3.6M1160.5 555.2h3.6M1162.3 531.2h3.6M1162.3 555h3.6M1164 530.9h3.6M1164 554.8h3.6M1165.8 530.6h3.6M1165.8 554.6h3.6M1167.6 530.3h3.6M1167.6 554.4h3.6M1169.3 530.1h3.6M1169.3 554.3h3.6M1171.1 529.8h3.6M1171.1 554.1h3.6M1172.8 529.5h3.6M1172.8 553.9h3.6M1174.6 529.2h3.6M1174.6 553.7h3.6M1176.4 528.9h3.6M1176.4 553.5h3.6M1178.1 528.6h3.6M1178.1 553.3h3.6M1179.9 528.3h3.6M1179.9 553.1h3.6M1181.6 528h3.6M1181.6 552.9h3.6M1183.4 527.7h3.6M1183.4 552.8h3.6M1185.2 527.4h3.6M1185.2 552.6h3.6M1186.9 527.1h3.6M1186.9 552.4h3.6M1188.7 526.8h3.6M1188.7 552.2h3.6M1190.4 526.5h3.6M1190.4 552h3.6M1192.2 526.2h3.6M1192.2 551.8h3.6M1194 525.9h3.6M1194 551.6h3.6M1195.7 525.6h3.6M1195.7 551.4h3.6M1197.5 525.3h3.6M1197.5 551.2h3.6M1199.2 525h3.6M1199.2 551.1h3.6M1201 524.7h3.6M1201 550.9h3.6M1202.8 524.4h3.6M1202.8 550.7h3.6M1204.5 524.1h3.6M1204.5 550.5h3.6M1206.3 523.8h3.6M1206.3 550.3h3.6M1208 523.5h3.6M1208 550.1h3.6M1209.8 523.2h3.6M1209.8 549.9h3.6M1211.5 522.9h3.6M1211.5 549.7h3.6M1213.3 522.6h3.6M1213.3 549.5h3.6M1215.1 522.2h3.6M1215.1 549.3h3.6M1216.8 521.9h3.6M1216.8 549.1h3.6M1218.6 521.6h3.6M1218.6 548.9h3.6M1220.3 521.3h3.6M1220.3 548.7h3.6M1222.1 521h3.6M1222.1 548.5h3.6M1223.9 520.7h3.6M1223.9 548.4h3.6M1225.6 520.3h3.6M1225.6 548.2h3.6M1227.4 520h3.6M1227.4 548h3.6M1229.1 519.7h3.6M1229.1 547.8h3.6M1230.9 519.4h3.6M1230.9 547.6h3.6M1232.7 519.1h3.6M1232.7 547.4h3.6M1234.4 518.7h3.6M1234.4 547.2h3.6M1236.2 518.4h3.6M1236.2 547h3.6M1237.9 518.1h3.6M1237.9 546.8h3.6M1239.7 517.8h3.6M1239.7 546.6h3.6M1241.5 517.4h3.6M1241.5 546.4h3.6M1243.2 517.1h3.6M1243.2 546.2h3.6M1245 516.8h3.6M1245 546h3.6M1246.7 516.4h3.6M1246.7 545.8h3.6M1248.5 516.1h3.6M1248.5 545.6h3.6M1250.3 515.8h3.6M1250.3 545.4h3.6M1252 515.4h3.6M1252 545.2h3.6M1253.8 515.1h3.6M1253.8 545h3.6M1255.5 514.8h3.6M1255.5 544.8h3.6M1257.3 514.4h3.6M1257.3 544.6h3.6M1259.1 514.1h3.6M1259.1 544.4h3.6M1260.8 513.8h3.6M1260.8 544.2h3.6M1262.6 513.4h3.6M1262.6 544h3.6M1264.3 513.1h3.6M1264.3 543.8h3.6M1266.1 512.7h3.6M1266.1 543.6h3.6M1267.9 512.4h3.6M1267.9 543.4h3.6M1269.6 512h3.6M1269.6 543.1h3.6M1271.4 511.7h3.6M1271.4 542.9h3.6M1273.1 511.3h3.6M1273.1 542.7h3.6M1274.9 511h3.6M1274.9 542.5h3.6M1276.7 510.6h3.6M1276.7 542.3h3.6M1278.4 510.3h3.6M1278.4 542.1h3.6M1280.2 509.9h3.6M1280.2 541.9h3.6M1281.9 509.6h3.6M1281.9 541.7h3.6M1283.7 509.2h3.6M1283.7 541.5h3.6M1285.5 508.9h3.6M1285.5 541.3h3.6M1287.2 508.5h3.6M1287.2 541.1h3.6M1289 508.2h3.6M1289 540.9h3.6M1290.7 507.8h3.6M1290.7 540.6h3.6M1292.5 507.5h3.6M1292.5 540.4h3.6M1294.3 507.1h3.6M1294.3 540.2h3.6M1296 506.7h3.6M1296 540h3.6M1297.8 506.4h3.6M1297.8 539.8h3.6M1299.5 506h3.6M1299.5 539.6h3.6M1301.3 505.6h3.6M1301.3 539.4h3.6M1303.1 505.3h3.6M1303.1 539.1h3.6M1304.8 504.9h3.6M1304.8 538.9h3.6M1306.6 504.5h3.6M1306.6 538.7h3.6M1308.3 504.2h3.6M1308.3 538.5h3.6M1310.1 503.8h3.6M1310.1 538.3h3.6M1311.9 503.4h3.6M1311.9 538.1h3.6M1313.6 503.1h3.6M1313.6 537.8h3.6M1315.4 502.7h3.6M1315.4 537.6h3.6M1317.1 502.3h3.6M1317.1 537.4h3.6" stroke="#1a1a1a" stroke-width="1.3" fill="none"/>
<path d="M223 210.7h0M224.2 210.7h0M289.6 257.1h0M290.7 257.1h0M302.4 265h0M304.2 266.2h0M306 267.3h0M307.8 268.5h0M319.6 276h0M321.4 277.1h0M323.1 278.2h0M324.9 279.3h0M326.6 280.4h0M328.4 281.4h0M330.2 282.5h0M331.9 283.6h0M340.1 288.6h0M341.9 289.7h0M345.4 291.8h0M347.2 292.9h0M348.9 293.9h0M360.6 300.8h0M362.4 301.8h0M364.1 302.9h0M365.9 303.9h0M367.6 304.9h0M369.4 305.9h0M371.2 306.9h0M372.9 307.9h0M374.7 308.9h0M376.4 309.9h0M378.2 310.9h0M380 311.9h0M381.7 312.9h0M383.5 313.9h0M385.2 314.9h0M387 315.9h0M388.8 316.8h0M390.5 317.8h0M392.3 318.8h0M394 319.7h0M395.8 320.7h0M397.6 321.7h0M399.3 322.6h0M401.1 323.6h0M402.8 324.5h0M404.6 325.5h0M406.4 326.4h0M408.1 327.4h0M409.9 328.3h0M411.6 329.2h0M413.4 330.2h0M415.2 331.1h0M416.9 332h0M418.7 332.9h0M420.4 333.8h0M422.2 334.7h0M424 335.6h0M425.7 336.6h0M427.5 337.5h0M429.2 338.3h0M431 339.2h0M432.8 340.1h0M434.5 341h0M436.3 341.9h0M438 342.8h0M439.8 343.7h0M441.6 344.5h0M443.3 345.4h0M445.1 346.3h0M446.8 347.1h0M448.6 348h0M450.3 348.8h0M452.1 349.7h0M453.9 350.5h0M455.6 351.4h0M457.4 352.2h0M459.1 353h0M460.9 353.9h0M462.7 354.7h0M464.4 355.5h0M466.2 356.3h0M467.9 357.2h0M469.7 358h0M471.5 358.8h0M473.2 359.6h0M475 360.4h0M476.7 361.2h0M478.5 362h0M480.3 362.8h0M482 363.6h0M483.8 364.3h0M485.5 365.1h0M487.3 365.9h0M489.1 366.7h0M490.8 367.4h0M492.6 368.2h0M494.3 369h0M496.1 369.7h0M497.9 370.5h0M499.6 371.2h0M501.4 372h0M503.1 372.7h0M504.9 373.4h0M506.7 374.2h0M508.4 374.9h0M510.2 375.6h0M511.9 376.4h0M513.7 377.1h0M515.5 377.8h0M517.2 378.5h0M519 379.2h0M520.7 379.9h0M522.5 380.6h0M524.3 381.3h0M526 382h0M527.8 382.7h0M529.5 383.4h0M531.3 384h0M533.1 384.7h0M534.8 385.4h0M536.6 386h0M538.3 386.7h0M540.1 387.4h0M541.9 388h0M543.6 388.7h0M545.4 389.3h0M547.1 389.9h0M548.9 390.6h0M550.7 391.2h0M552.4 391.9h0M554.2 392.5h0M555.9 393.1h0M557.7 393.7h0M559.5 394.3h0M561.2 394.9h0M563 395.5h0M564.7 396.1h0M566.5 396.7h0M568.3 397.3h0M570 397.9h0M571.8 398.5h0M573.5 399.1h0M575.3 399.7h0M577.1 400.2h0M578.8 400.8h0M580.6 401.4h0M582.3 401.9h0M584.1 402.5h0M585.9 403h0M587.6 403.6h0M589.4 404.1h0M591.1 404.7h0M592.9 405.2h0M594.7 405.7h0M596.4 406.2h0M598.2 406.8h0M599.9 407.3h0M601.7 407.8h0M603.5 408.3h0M605.2 408.8h0M607 409.3h0M608.7 409.8h0M610.5 410.3h0M612.3 410.8h0M614 411.3h0M615.8 411.7h0M617.5 412.2h0M619.3 412.7h0M621.1 413.2h0M622.8 413.6h0M624.6 414.1h0M626.3 414.5h0M628.1 415h0M629.8 415.4h0M631.6 415.9h0M633.4 416.3h0M635.1 416.7h0M636.9 505.8h0M638.7 506h0M640.4 506.2h0M642.2 506.4h0M643.9 506.6h0M645.7 506.8h0M647.5 507h0M649.2 507.2h0M651 507.4h0M652.7 507.6h0M654.5 507.8h0M656.3 508h0M658 508.2h0M659.8 508.3h0M661.5 508.5h0M663.3 508.7h0M665.1 508.9h0M666.8 509h0M668.6 509.2h0M670.3 509.4h0M672.1 509.6h0M673.9 509.7h0M675.6 509.9h0M677.4 510.1h0M679.1 510.2h0M680.9 510.4h0M682.7 510.6h0M684.4 510.7h0M686.2 510.9h0M687.9 511h0M689.7 511.2h0M691.5 511.3h0M693.2 511.5h0M695 511.6h0M696.7 511.8h0M698.5 511.9h0M700.3 512.1h0M702 512.2h0M703.8 512.4h0M705.5 512.5h0M707.3 512.7h0M709.1 512.8h0M710.8 512.9h0M712.6 513.1h0M714.3 513.2h0M716.1 513.3h0M717.9 513.4h0M719.6 513.6h0M721.4 513.7h0M723.1 513.8h0M724.9 513.9h0M726.6 514.1h0M728.4 514.2h0M730.2 514.3h0M731.9 514.4h0M733.7 514.5h0M735.4 514.6h0M737.2 514.8h0M739 514.9h0M740.7 515h0M742.5 515.1h0M744.2 515.2h0M746 515.3h0M747.8 515.4h0M749.5 515.5h0M751.3 515.6h0M753 515.7h0M754.8 515.8h0M756.6 515.9h0M758.3 516h0M760.1 516.1h0M761.8 516.1h0M763.6 516.2h0M765.4 516.3h0M767.1 516.4h0M768.9 516.5h0M770.6 516.6h0M772.4 516.6h0M774.2 516.7h0M775.9 516.8h0M777.7 516.9h0M779.4 516.9h0M781.2 517h0M783 517.1h0M784.7 517.1h0M786.5 517.2h0M788.2 517.3h0M790 517.3h0M791.8 517.4h0M793.5 517.5h0M795.3 517.5h0M797 517.6h0M798.8 517.6h0M800.6 517.7h0M802.3 517.7h0M804.1 517.8h0M805.8 517.8h0M807.6 517.9h0M809.4 517.9h0M811.1 518h0M812.9 518h0M814.6 518h0M816.2 546.3h0M818 546.2h0M819.7 546.2h0M821.5 546.1h0M823.2 546.1h0M825 546h0M826.8 546h0M828.5 545.9h0M830.3 545.9h0M832 545.8h0M833.8 545.8h0M835.6 545.7h0M837.3 545.7h0M839.1 545.6h0M840.8 545.6h0M842.6 545.5h0M844.4 545.5h0M846.1 545.4h0M847.9 545.4h0M849.6 545.3h0M851.4 545.3h0M853.2 545.2h0M854.9 545.2h0M856.7 545.1h0M858.4 545.1h0M860.2 545h0M862 545h0M863.7 544.9h0M865.5 544.9h0M867.2 544.8h0M869 544.8h0M870.8 544.7h0M872.5 544.7h0M874.3 544.6h0M876 544.6h0M877.8 544.5h0M879.6 544.5h0M881.3 544.4h0M883.1 544.4h0M884.8 544.3h0M886.6 544.3h0M888.4 544.2h0M890.1 544.2h0M891.9 544.1h0M893.6 544.1h0M895.4 544h0M897.2 544h0M898.9 543.9h0M900.7 543.9h0M902.4 543.8h0M904.2 543.8h0M905.9 543.7h0M907.7 543.7h0M909.5 543.6h0M911.2 543.6h0M913 543.5h0M914.7 543.5h0M916.5 543.4h0M918.3 543.4h0M920 543.3h0M921.8 543.3h0M923.5 543.2h0M925.3 543.2h0M927.1 543.1h0M928.8 543.1h0M930.6 543h0M932.3 543h0M934.1 542.9h0M935.9 542.9h0M937.6 542.8h0M939.4 542.8h0M941.1 542.7h0M942.9 542.7h0M944.7 542.6h0M946.4 542.6h0M948.2 542.5h0M949.9 542.5h0M951.7 542.4h0M953.5 542.4h0M955.2 542.3h0M957 542.3h0M958.7 542.2h0M960.5 542.2h0M962.3 542.1h0M964 542h0M965.8 542h0M967.5 541.9h0M969.3 541.9h0M971.1 541.8h0M972.8 541.8h0M974 550.6h0M975.8 550.5h0M977.5 550.3h0M979.3 550.2h0M981 550.1h0M982.8 550h0M984.6 549.9h0M986.3 549.8h0M988.1 549.7h0M989.8 549.6h0M991.6 549.5h0M993.4 549.3h0M995.1 549.2h0M996.9 549.1h0M998.6 549h0M1000.4 548.8h0M1002.2 548.7h0M1003.9 548.6h0M1005.7 548.5h0M1007.4 548.3h0M1009.2 548.2h0M1011 548.1h0M1012.7 548h0M1014.5 547.8h0M1016.2 547.7h0M1018 547.5h0M1019.8 547.4h0M1021.5 547.3h0M1023.3 547.1h0M1025 547h0M1026.8 546.8h0M1028.6 546.7h0M1030.3 546.6h0M1032.1 546.4h0M1033.8 546.3h0M1035.6 546.1h0M1037.4 546h0M1039.1 545.8h0M1040.9 545.7h0M1042.6 545.5h0M1044.4 545.3h0M1046.2 545.2h0M1047.9 545h0M1049.7 544.9h0M1051.4 544.7h0M1053.2 544.5h0M1055 544.4h0M1056.7 544.2h0M1058.5 544h0M1060.2 543.9h0M1062 543.7h0M1063.7 543.5h0M1065.5 543.4h0M1067.3 543.2h0M1069 543h0M1070.8 542.8h0M1072.5 542.7h0M1074.3 542.5h0M1076.1 542.3h0M1077.8 542.1h0M1079.6 541.9h0M1081.3 541.8h0M1083.1 541.6h0M1084.9 541.4h0M1086.6 541.2h0M1088.4 541h0M1090.1 540.8h0M1091.9 540.6h0M1093.7 540.4h0M1095.4 540.2h0M1097.2 540h0M1098.9 539.9h0M1100.7 539.7h0M1102.5 539.5h0M1104.2 539.3h0M1106 539h0M1107.7 538.8h0M1109.5 538.6h0M1111.3 538.4h0M1113 538.2h0M1114.8 538h0M1116.5 537.8h0M1118.3 537.6h0M1120.1 537.4h0M1121.8 537.2h0M1123.6 548.4h0M1125.4 548.2h0M1127.1 548h0M1128.9 547.7h0M1130.6 547.5h0M1132.4 547.3h0M1134.2 547h0M1135.9 546.8h0M1137.7 546.5h0M1139.4 546.3h0M1141.2 546.1h0M1143 545.8h0M1144.7 545.6h0M1146.5 545.4h0M1148.2 545.1h0M1150 544.9h0M1151.8 544.6h0M1153.5 544.4h0M1155.3 544.2h0M1157 543.9h0M1158.8 543.7h0M1160.6 543.4h0M1162.3 543.2h0M1164.1 543h0M1165.8 542.7h0M1167.6 542.5h0M1169.4 542.2h0M1171.1 542h0M1172.9 541.7h0M1174.6 541.5h0M1176.4 541.3h0M1178.2 541h0M1179.9 540.8h0M1181.7 540.5h0M1183.4 540.3h0M1185.2 540h0M1187 539.8h0M1188.7 539.6h0M1190.5 539.3h0M1192.2 539.1h0M1194 538.8h0M1195.8 538.6h0M1197.5 538.3h0M1199.3 538.1h0M1201 537.8h0M1202.8 537.6h0M1204.6 537.3h0M1206.3 537.1h0M1208.1 536.8h0M1209.8 536.6h0M1211.6 536.3h0M1213.3 536.1h0M1215.1 535.8h0M1216.9 535.6h0M1218.6 535.3h0M1220.4 535.1h0M1222.1 534.8h0M1223.9 534.6h0M1225.7 534.3h0M1227.4 534.1h0M1229.2 533.8h0M1230.9 533.6h0M1232.7 533.3h0M1234.5 533.1h0M1236.2 532.8h0M1238 532.5h0M1239.7 532.3h0M1241.5 532h0M1243.3 531.8h0M1245 531.5h0M1246.8 531.2h0M1248.5 531h0M1250.3 530.7h0M1252.1 530.5h0M1253.8 530.2h0M1255.6 529.9h0M1257.3 529.7h0M1259.1 529.4h0M1260.9 529.2h0M1262.6 528.9h0M1264.4 528.6h0M1266.1 528.4h0M1267.9 528.1h0M1269.7 527.8h0M1271.4 527.6h0M1273.2 527.3h0M1274.9 527h0M1276.7 526.7h0M1278.5 526.5h0M1280.2 526.2h0M1282 525.9h0M1283.7 525.7h0M1285.5 525.4h0M1287.3 525.1h0M1289 524.8h0M1290.8 524.6h0M1292.5 524.3h0M1294.3 524h0M1296.1 523.7h0M1297.8 523.4h0M1299.6 523.2h0M1301.3 522.9h0M1303.1 522.6h0M1304.9 522.3h0M1306.6 522h0M1308.4 521.8h0M1310.1 521.5h0M1311.9 521.2h0M1313.7 520.9h0M1315.4 520.6h0M1317.2 520.3h0M1318.9 520h0M1320.7 519.7h0M1322.5 519.5h0M1326 518.9h0M1327.7 518.6h0M1329.5 518.3h0M1331.3 518h0M1333 517.7h0M1334.8 517.4h0M1336.5 517.1h0M1338.3 516.8h0M1341.8 516.2h0M1343.6 515.9h0M1345.3 515.6h0M1347.1 515.3h0M1348.9 515h0M1350.6 514.7h0M1352.4 514.4h0M1354.1 514.1h0M1355.9 513.8h0M1357.7 513.5h0M1359.4 513.2h0M1361.2 512.8h0M1362.9 512.5h0M1366.5 511.9h0M1368.2 511.6h0M1370 511.3h0M1371.7 511h0M1373.5 510.6h0M1375.3 510.3h0M1377 510h0M1378.8 509.7h0M1380.5 509.4h0M1382.3 509h0M1384.1 508.7h0M1385.8 508.4h0M1387.6 508.1h0M1389.3 507.7h0M1392.7 507.1h0M1394.4 506.8h0M1398 506.1h0M1399.8 505.8h0M1401.5 505.4h0M1403.3 505.1h0M1405 504.8h0M1426.9 500.5h0M1428.7 500.1h0M1430.4 499.8h0M1437.4 498.3h0M1439.2 498h0M1441 497.6h0M1454 494.9h0M1455.8 494.5h0M1457.6 494.2h0" stroke="#000" stroke-width="3.1" stroke-linecap="round" fill="none"/>
<path d="M143.5 151.9h0M161 164.6h0M167.9 169.8h0M180.6 179.6h0M238.2 221.8h0M261.1 237.7h0M271.6 244.8h0M280.3 250.4h0M313.1 271.9h0M336.6 286.5h0M352.5 296h0M357 298.7h0M1410.6 503.7h0M1415.1 502.8h0M1420.6 501.8h0M1446.8 496.4h0M1450.8 495.5h0M1461 493.4h0M1473.6 490.6h0M1478.5 489.5h0M1487.6 487.3h0M1494.3 485.6h0M1517.1 480.5h0M1520.7 479.6h0M1552.4 471.5h0M1561.1 469.3h0M1577.2 465.4h0" stroke="#000" stroke-width="3.7" stroke-linecap="round" fill="none"/>
<text x="64.5" y="422.5" text-anchor="end" class="t">0.05</text>
<text x="64.5" y="235.3" text-anchor="end" class="t">0.10</text>
<text x="64.5" y="48.1" text-anchor="end" class="t">0.15</text>
<text x="377.1" y="602" text-anchor="middle" class="t">25</text>
<text x="817" y="602" text-anchor="middle" class="t">50</text>
<text x="1257" y="602" text-anchor="middle" class="t">75</text>
<text x="883.2" y="641.3" text-anchor="middle" class="a">Average Relative Humidity 14 to 7 days before conception</text>
<text transform="translate(22.9 302.7) rotate(-90)" text-anchor="middle" class="a">Heritability</text>
<text x="13.4" y="24.8" class="L">A</text>
<rect x="60.7" y="817" width="1589.8" height="546" fill="#ebebeb"/>
<path d="M88.8 817V1363M509.6 817V1363M930.4 817V1363M1351.2 817V1363M60.7 1272H1650.5M60.7 1071.7H1650.5M60.7 871.4H1650.5" stroke="#f1f1f1" stroke-width="0.8" fill="none"/>
<path d="M299.2 817V1363M720 817V1363M1140.8 817V1363M1561.6 817V1363M60.7 1171.8H1650.5M60.7 971.5H1650.5" stroke="#f7f7f7" stroke-width="1.5" fill="none"/>
<path d="M299.2 1363v2.4M720 1363v2.4M1140.8 1363v2.4M1561.6 1363v2.4M60.7 1171.8h-2.4M60.7 971.5h-2.4" stroke="#888" stroke-width="1" fill="none"/>
<path d="M149.4 851.4V994.9M157.9 856.2V998.6M189.4 881.2V1017.9M216.9 896.1V1029.2M223.1 900.6V1031.9M229.2 903.9V1033.7M237.6 910.6V1040.3M242.3 914.2V1043M248.4 917.8V1044.8M265.3 929.2V1053.9M271.6 930.5V1054.5M294.2 946.5V1066.6M298.7 949V1069.3M302.8 951.6V1070.6M342.7 974.6V1087.4M348.8 978.2V1090.1M363.5 986.6V1095.8M368 989.2V1097.5M480.3 1048.4V1141.3M1550.8 1302.5V1327.1M1555.3 1301.9V1326.7M1563.6 1300.7V1325.9M1576.7 1298.9V1324.6M147.6 851.4h3.6M147.6 994.9h3.6M156.1 856.2h3.6M156.1 998.6h3.6M187.6 881.2h3.6M187.6 1017.9h3.6M215.1 896.1h3.6M215.1 1029.2h3.6M221.3 900.6h3.6M221.3 1031.9h3.6M227.4 903.9h3.6M227.4 1033.7h3.6M235.8 910.6h3.6M235.8 1040.3h3.6M240.5 914.2h3.6M240.5 1043h3.6M246.6 917.8h3.6M246.6 1044.8h3.6M263.5 929.2h3.6M263.5 1053.9h3.6M269.8 930.5h3.6M269.8 1054.5h3.6M292.4 946.5h3.6M292.4 1066.6h3.6M296.9 949h3.6M296.9 1069.3h3.6M301 951.6h3.6M301 1070.6h3.6M340.9 974.6h3.6M340.9 1087.4h3.6M347 978.2h3.6M347 1090.1h3.6M361.7 986.6h3.6M361.7 1095.8h3.6M366.2 989.2h3.6M366.2 1097.5h3.6M478.5 1048.4h3.6M478.5 1141.3h3.6M1549 1302.5h3.6M1549 1327.1h3.6M1553.5 1301.9h3.6M1553.5 1326.7h3.6M1561.8 1300.7h3.6M1561.8 1325.9h3.6M1574.9 1298.9h3.6M1574.9 1324.6h3.6" stroke="#383838" stroke-width="1.15" fill="none"/>
<path d="M134.9 841.4V988M136.7 841.4V988M258.9 924.7V1050.6M260.7 924.7V1050.6M321.7 962.5V1079.2M324 962.5V1079.2M334.3 970.6V1084.7M336.7 970.6V1084.7M354.3 981.4V1092.1M356.4 982.6V1093M358.5 983.8V1093.8M360.2 984.8V1094.5M371.6 991.2V1099M373.7 992.4V1099.8M375.8 993.6V1100.7M377.9 994.7V1101.5M383.8 998V1103.8M385.9 999.2V1104.7M388 1000.3V1105.5M390.1 1001.5V1106.4M392.2 1002.6V1107.2M394.3 1003.8V1108M399.2 1006.4V1110M401.3 1007.6V1110.8M403.4 1008.7V1111.7M405.5 1009.8V1112.5M407.6 1011V1113.3M409.7 1012.1V1114.2M411.8 1013.2V1115M418.2 1016.6V1117.5M420.3 1017.7V1118.4M422.4 1018.9V1119.2M426.3 1020.9V1120.7M428.4 1022V1121.6M430.5 1023.1V1122.4M432.6 1024.2V1123.2M434.7 1025.3V1124M436.8 1026.4V1124.9M441.7 1028.9V1126.8M443.8 1030V1127.6M445.9 1031.1V1128.4M449.9 1033.1V1129.9M452 1034.2V1130.7M454.1 1035.3V1131.5M456.2 1036.4V1132.3M458.3 1037.4V1133.1M460.4 1038.5V1133.9M462.5 1039.5V1134.7M464.6 1040.6V1135.5M468.9 1042.7V1137.1M471 1043.8V1137.9M473.1 1044.8V1138.7M475.2 1045.9V1139.4M483.4 1049.9V1142.4M485.5 1050.9V1143.2M487.6 1051.9V1143.9M489.7 1053V1144.7M492.4 1054.3V1145.6M494.5 1055.3V1146.4M496.6 1056.3V1147.1M500.8 1058.3V1148.6M502.9 1059.3V1149.3M505 1060.3V1150M507.1 1061.3V1150.7M509.2 1062.3V1151.4M511.3 1063.3V1152.1M513.4 1064.3V1152.8M515.5 1065.3V1153.5M519.8 1067.2V1154.9M521.9 1068.2V1155.6M524 1069.2V1156.3M526.1 1070.1V1157M528.2 1071.1V1157.7M530.3 1072.1V1158.3M532.4 1073V1159M534.5 1074V1159.7M536.6 1074.9V1160.3M538.7 1075.9V1161M540.8 1076.8V1161.7M542.9 1077.8V1162.3M545 1078.7V1163M547.1 1079.7V1163.6M549.2 1080.6V1164.3M551.3 1081.5V1164.9M553.4 1082.5V1165.5M555.5 1083.4V1166.2M557.6 1084.3V1166.8M559.7 1085.2V1167.4M561.8 1086.2V1168M563.9 1087.1V1168.7M566 1088V1169.3M568.1 1088.9V1169.9M570.2 1089.8V1170.5M572.4 1090.7V1171.1M574.5 1091.6V1171.7M576.6 1092.5V1172.3M578.7 1093.4V1172.9M580.8 1094.3V1173.5M582.9 1095.2V1174.1M585 1096V1174.7M587.1 1096.9V1175.3M589.2 1097.8V1175.9M591.3 1098.7V1176.5M593.4 1099.5V1177M595.5 1100.4V1177.6M597.6 1101.3V1178.2M599.7 1102.1V1178.8M601.8 1103V1179.3M603.9 1103.9V1179.9M606 1104.7V1180.4M608.1 1105.6V1181M610.2 1106.4V1181.6M612.3 1107.2V1182.1M614.4 1108.1V1182.7M616.5 1108.9V1183.2M618.6 1109.8V1183.8M620.7 1110.6V1184.3M622.8 1111.4V1184.9M625 1112.2V1185.4M627.1 1113.1V1185.9M629.2 1113.9V1186.5M631.3 1114.7V1187M633.4 1115.5V1187.5M635.5 1116.3V1188.1M637.6 1117.1V1188.6M639.7 1117.9V1189.1M641.8 1118.7V1189.6M643.9 1119.5V1190.1M646 1120.3V1190.7M648.1 1121.1V1191.2M650.2 1121.9V1191.7M652.3 1122.7V1192.2M654.4 1123.4V1192.7M656.5 1124.2V1193.2M658.6 1125V1193.7M660.7 1125.7V1194.2M662.8 1126.5V1194.7M664.9 1127.3V1195.2M667 1128V1195.7M669.1 1128.8V1196.2M671.2 1129.5V1196.7M673.3 1130.3V1197.2M675.4 1131V1197.7M677.6 1131.8V1198.2M679.7 1132.5V1198.7M681.8 1133.2V1199.1M683.9 1134V1199.6M686 1134.7V1200.1M688.1 1135.4V1200.6M690.2 1136.2V1201.1M692.3 1136.9V1201.5M694.4 1137.6V1202M696.5 1138.3V1202.5M698.6 1139V1203M700.7 1139.7V1203.4M702.8 1140.4V1203.9M704.9 1141.1V1204.4M707 1141.8V1204.8M709.1 1142.5V1205.3M711.2 1143.2V1205.8M713.3 1143.9V1206.2M715.4 1144.6V1206.7M717.5 1145.2V1207.2M719.6 1145.9V1207.6M721.7 1146.6V1208.1M723.8 1147.3V1208.5M725.9 1147.9V1209M728 1148.6V1209.4M730.2 1149.2V1209.9M732.3 1149.9V1210.3M734.4 1150.5V1210.8M736.5 1151.2V1211.2M738.6 1151.8V1211.7M742.8 1153.1V1212.6M744.9 1153.8V1213M747 1154.4V1213.5M749.1 1155V1213.9M751.2 1155.6V1214.4M753.3 1156.3V1214.8M755.4 1156.9V1215.3M133.1 841.4h3.6M133.1 988h3.6M134.9 841.4h3.6M134.9 988h3.6M257.1 924.7h3.6M257.1 1050.6h3.6M258.9 924.7h3.6M258.9 1050.6h3.6M319.9 962.5h3.6M319.9 1079.2h3.6M322.2 962.5h3.6M322.2 1079.2h3.6M332.5 970.6h3.6M332.5 1084.7h3.6M334.9 970.6h3.6M334.9 1084.7h3.6M352.5 981.4h3.6M352.5 1092.1h3.6M354.6 982.6h3.6M354.6 1093h3.6M356.7 983.8h3.6M356.7 1093.8h3.6M358.4 984.8h3.6M358.4 1094.5h3.6M369.8 991.2h3.6M369.8 1099h3.6M371.9 992.4h3.6M371.9 1099.8h3.6M374 993.6h3.6M374 1100.7h3.6M376.1 994.7h3.6M376.1 1101.5h3.6M382 998h3.6M382 1103.8h3.6M384.1 999.2h3.6M384.1 1104.7h3.6M386.2 1000.3h3.6M386.2 1105.5h3.6M388.3 1001.5h3.6M388.3 1106.4h3.6M390.4 1002.6h3.6M390.4 1107.2h3.6M392.5 1003.8h3.6M392.5 1108h3.6M397.4 1006.4h3.6M397.4 1110h3.6M399.5 1007.6h3.6M399.5 1110.8h3.6M401.6 1008.7h3.6M401.6 1111.7h3.6M403.7 1009.8h3.6M403.7 1112.5h3.6M405.8 1011h3.6M405.8 1113.3h3.6M407.9 1012.1h3.6M407.9 1114.2h3.6M410 1013.2h3.6M410 1115h3.6M416.4 1016.6h3.6M416.4 1117.5h3.6M418.5 1017.7h3.6M418.5 1118.4h3.6M420.6 1018.9h3.6M420.6 1119.2h3.6M424.5 1020.9h3.6M424.5 1120.7h3.6M426.6 1022h3.6M426.6 1121.6h3.6M428.7 1023.1h3.6M428.7 1122.4h3.6M430.8 1024.2h3.6M430.8 1123.2h3.6M432.9 1025.3h3.6M432.9 1124h3.6M435 1026.4h3.6M435 1124.9h3.6M439.9 1028.9h3.6M439.9 1126.8h3.6M442 1030h3.6M442 1127.6h3.6M444.1 1031.1h3.6M444.1 1128.4h3.6M448.1 1033.1h3.6M448.1 1129.9h3.6M450.2 1034.2h3.6M450.2 1130.7h3.6M452.3 1035.3h3.6M452.3 1131.5h3.6M454.4 1036.4h3.6M454.4 1132.3h3.6M456.5 1037.4h3.6M456.5 1133.1h3.6M458.6 1038.5h3.6M458.6 1133.9h3.6M460.7 1039.5h3.6M460.7 1134.7h3.6M462.8 1040.6h3.6M462.8 1135.5h3.6M467.1 1042.7h3.6M467.1 1137.1h3.6M469.2 1043.8h3.6M469.2 1137.9h3.6M471.3 1044.8h3.6M471.3 1138.7h3.6M473.4 1045.9h3.6M473.4 1139.4h3.6M481.6 1049.9h3.6M481.6 1142.4h3.6M483.7 1050.9h3.6M483.7 1143.2h3.6M485.8 1051.9h3.6M485.8 1143.9h3.6M487.9 1053h3.6M487.9 1144.7h3.6M490.6 1054.3h3.6M490.6 1145.6h3.6M492.7 1055.3h3.6M492.7 1146.4h3.6M494.8 1056.3h3.6M494.8 1147.1h3.6M499 1058.3h3.6M499 1148.6h3.6M501.1 1059.3h3.6M501.1 1149.3h3.6M503.2 1060.3h3.6M503.2 1150h3.6M505.3 1061.3h3.6M505.3 1150.7h3.6M507.4 1062.3h3.6M507.4 1151.4h3.6M509.5 1063.3h3.6M509.5 1152.1h3.6M511.6 1064.3h3.6M511.6 1152.8h3.6M513.7 1065.3h3.6M513.7 1153.5h3.6M518 1067.2h3.6M518 1154.9h3.6M520.1 1068.2h3.6M520.1 1155.6h3.6M522.2 1069.2h3.6M522.2 1156.3h3.6M524.3 1070.1h3.6M524.3 1157h3.6M526.4 1071.1h3.6M526.4 1157.7h3.6M528.5 1072.1h3.6M528.5 1158.3h3.6M530.6 1073h3.6M530.6 1159h3.6M532.7 1074h3.6M532.7 1159.7h3.6M534.8 1074.9h3.6M534.8 1160.3h3.6M536.9 1075.9h3.6M536.9 1161h3.6M539 1076.8h3.6M539 1161.7h3.6M541.1 1077.8h3.6M541.1 1162.3h3.6M543.2 1078.7h3.6M543.2 1163h3.6M545.3 1079.7h3.6M545.3 1163.6h3.6M547.4 1080.6h3.6M547.4 1164.3h3.6M549.5 1081.5h3.6M549.5 1164.9h3.6M551.6 1082.5h3.6M551.6 1165.5h3.6M553.7 1083.4h3.6M553.7 1166.2h3.6M555.8 1084.3h3.6M555.8 1166.8h3.6M557.9 1085.2h3.6M557.9 1167.4h3.6M560 1086.2h3.6M560 1168h3.6M562.1 1087.1h3.6M562.1 1168.7h3.6M564.2 1088h3.6M564.2 1169.3h3.6M566.3 1088.9h3.6M566.3 1169.9h3.6M568.4 1089.8h3.6M568.4 1170.5h3.6M570.6 1090.7h3.6M570.6 1171.1h3.6M572.7 1091.6h3.6M572.7 1171.7h3.6M574.8 1092.5h3.6M574.8 1172.3h3.6M576.9 1093.4h3.6M576.9 1172.9h3.6M579 1094.3h3.6M579 1173.5h3.6M581.1 1095.2h3.6M581.1 1174.1h3.6M583.2 1096h3.6M583.2 1174.7h3.6M585.3 1096.9h3.6M585.3 1175.3h3.6M587.4 1097.8h3.6M587.4 1175.9h3.6M589.5 1098.7h3.6M589.5 1176.5h3.6M591.6 1099.5h3.6M591.6 1177h3.6M593.7 1100.4h3.6M593.7 1177.6h3.6M595.8 1101.3h3.6M595.8 1178.2h3.6M597.9 1102.1h3.6M597.9 1178.8h3.6M600 1103h3.6M600 1179.3h3.6M602.1 1103.9h3.6M602.1 1179.9h3.6M604.2 1104.7h3.6M604.2 1180.4h3.6M606.3 1105.6h3.6M606.3 1181h3.6M608.4 1106.4h3.6M608.4 1181.6h3.6M610.5 1107.2h3.6M610.5 1182.1h3.6M612.6 1108.1h3.6M612.6 1182.7h3.6M614.7 1108.9h3.6M614.7 1183.2h3.6M616.8 1109.8h3.6M616.8 1183.8h3.6M618.9 1110.6h3.6M618.9 1184.3h3.6M621 1111.4h3.6M621 1184.9h3.6M623.2 1112.2h3.6M623.2 1185.4h3.6M625.3 1113.1h3.6M625.3 1185.9h3.6M627.4 1113.9h3.6M627.4 1186.5h3.6M629.5 1114.7h3.6M629.5 1187h3.6M631.6 1115.5h3.6M631.6 1187.5h3.6M633.7 1116.3h3.6M633.7 1188.1h3.6M635.8 1117.1h3.6M635.8 1188.6h3.6M637.9 1117.9h3.6M637.9 1189.1h3.6M640 1118.7h3.6M640 1189.6h3.6M642.1 1119.5h3.6M642.1 1190.1h3.6M644.2 1120.3h3.6M644.2 1190.7h3.6M646.3 1121.1h3.6M646.3 1191.2h3.6M648.4 1121.9h3.6M648.4 1191.7h3.6M650.5 1122.7h3.6M650.5 1192.2h3.6M652.6 1123.4h3.6M652.6 1192.7h3.6M654.7 1124.2h3.6M654.7 1193.2h3.6M656.8 1125h3.6M656.8 1193.7h3.6M658.9 1125.7h3.6M658.9 1194.2h3.6M661 1126.5h3.6M661 1194.7h3.6M663.1 1127.3h3.6M663.1 1195.2h3.6M665.2 1128h3.6M665.2 1195.7h3.6M667.3 1128.8h3.6M667.3 1196.2h3.6M669.4 1129.5h3.6M669.4 1196.7h3.6M671.5 1130.3h3.6M671.5 1197.2h3.6M673.6 1131h3.6M673.6 1197.7h3.6M675.8 1131.8h3.6M675.8 1198.2h3.6M677.9 1132.5h3.6M677.9 1198.7h3.6M680 1133.2h3.6M680 1199.1h3.6M682.1 1134h3.6M682.1 1199.6h3.6M684.2 1134.7h3.6M684.2 1200.1h3.6M686.3 1135.4h3.6M686.3 1200.6h3.6M688.4 1136.2h3.6M688.4 1201.1h3.6M690.5 1136.9h3.6M690.5 1201.5h3.6M692.6 1137.6h3.6M692.6 1202h3.6M694.7 1138.3h3.6M694.7 1202.5h3.6M696.8 1139h3.6M696.8 1203h3.6M698.9 1139.7h3.6M698.9 1203.4h3.6M701 1140.4h3.6M701 1203.9h3.6M703.1 1141.1h3.6M703.1 1204.4h3.6M705.2 1141.8h3.6M705.2 1204.8h3.6M707.3 1142.5h3.6M707.3 1205.3h3.6M709.4 1143.2h3.6M709.4 1205.8h3.6M711.5 1143.9h3.6M711.5 1206.2h3.6M713.6 1144.6h3.6M713.6 1206.7h3.6M715.7 1145.2h3.6M715.7 1207.2h3.6M717.8 1145.9h3.6M717.8 1207.6h3.6M719.9 1146.6h3.6M719.9 1208.1h3.6M722 1147.3h3.6M722 1208.5h3.6M724.1 1147.9h3.6M724.1 1209h3.6M726.2 1148.6h3.6M726.2 1209.4h3.6M728.4 1149.2h3.6M728.4 1209.9h3.6M730.5 1149.9h3.6M730.5 1210.3h3.6M732.6 1150.5h3.6M732.6 1210.8h3.6M734.7 1151.2h3.6M734.7 1211.2h3.6M736.8 1151.8h3.6M736.8 1211.7h3.6M741 1153.1h3.6M741 1212.6h3.6M743.1 1153.8h3.6M743.1 1213h3.6M745.2 1154.4h3.6M745.2 1213.5h3.6M747.3 1155h3.6M747.3 1213.9h3.6M749.4 1155.6h3.6M749.4 1214.4h3.6M751.5 1156.3h3.6M751.5 1214.8h3.6M753.6 1156.9h3.6M753.6 1215.3h3.6" stroke="#333" stroke-width="1.15" fill="none"/>
<path d="M758 1261.6V1293.3M760.1 1261.9V1293.4M762.2 1262.2V1293.6M764.3 1262.4V1293.8M766.4 1262.7V1293.9M768.5 1263V1294.1M770.6 1263.3V1294.2M772.7 1263.5V1294.4M774.8 1263.8V1294.5M776.9 1264.1V1294.7M779 1264.3V1294.9M781.1 1264.6V1295M783.2 1264.8V1295.2M785.4 1265.1V1295.3M787.5 1265.4V1295.5M789.6 1265.6V1295.6M791.7 1265.9V1295.8M793.8 1266.1V1295.9M795.9 1266.4V1296.1M798 1266.6V1296.2M800.1 1266.9V1296.4M802.2 1267.1V1296.5M804.3 1267.4V1296.6M806.4 1267.6V1296.8M808.5 1267.8V1296.9M810.6 1268.1V1297.1M812.7 1268.3V1297.2M814.8 1268.6V1297.4M816.9 1268.8V1297.5M819 1269V1297.6M821.1 1269.3V1297.8M823.2 1269.5V1297.9M825.3 1269.7V1298M827.4 1270V1298.2M829.5 1270.2V1298.3M831.6 1270.4V1298.5M833.7 1270.6V1298.6M835.8 1270.9V1298.7M838 1271.1V1298.9M840.1 1271.3V1299M842.2 1271.5V1299.1M844.3 1271.7V1299.2M846.4 1271.9V1299.4M848.5 1272.2V1299.5M850.6 1272.4V1299.6M852.7 1272.6V1299.8M854.8 1272.8V1299.9M856.9 1273V1300M859 1273.2V1300.1M861.1 1273.4V1300.2M863.2 1273.6V1300.4M865.3 1273.8V1300.5M867.4 1274V1300.6M869.5 1274.2V1300.7M871.6 1274.4V1300.9M873.7 1274.6V1301M875.8 1274.8V1301.1M877.9 1275V1301.2M880 1275.2V1301.3M882.1 1275.4V1301.4M884.2 1275.6V1301.5M886.3 1275.8V1301.7M888.4 1275.9V1301.8M890.6 1276.1V1301.9M892.7 1276.3V1302M894.8 1276.5V1302.1M896.9 1276.7V1302.2M899 1276.8V1302.3M901.1 1277V1302.4M903.2 1277.2V1302.5M905.3 1277.4V1302.6M907.4 1277.5V1302.7M909.5 1277.7V1302.9M911.6 1277.9V1303M913.7 1278V1303.1M915.8 1278.2V1303.2M917.9 1278.4V1303.3M920 1278.5V1303.4M922.1 1278.7V1303.5M924.2 1278.9V1303.6M926.3 1279V1303.7M928.4 1279.2V1303.8M930.5 1279.3V1303.9M932.6 1279.5V1303.9M934.7 1279.6V1304M936.8 1279.8V1304.1M938.9 1279.9V1304.2M941 1280.1V1304.3M943.2 1280.2V1304.4M945.3 1280.4V1304.5M947.4 1280.5V1304.6M949.5 1280.7V1304.7M951.6 1280.8V1304.8M953.7 1280.9V1304.9M955.8 1281.1V1304.9M957.9 1281.2V1305M960 1281.4V1305.1M962.1 1281.5V1305.2M964.2 1281.6V1305.3M966.3 1281.7V1305.4M756.2 1261.6h3.6M756.2 1293.3h3.6M758.3 1261.9h3.6M758.3 1293.4h3.6M760.4 1262.2h3.6M760.4 1293.6h3.6M762.5 1262.4h3.6M762.5 1293.8h3.6M764.6 1262.7h3.6M764.6 1293.9h3.6M766.7 1263h3.6M766.7 1294.1h3.6M768.8 1263.3h3.6M768.8 1294.2h3.6M770.9 1263.5h3.6M770.9 1294.4h3.6M773 1263.8h3.6M773 1294.5h3.6M775.1 1264.1h3.6M775.1 1294.7h3.6M777.2 1264.3h3.6M777.2 1294.9h3.6M779.3 1264.6h3.6M779.3 1295h3.6M781.4 1264.8h3.6M781.4 1295.2h3.6M783.6 1265.1h3.6M783.6 1295.3h3.6M785.7 1265.4h3.6M785.7 1295.5h3.6M787.8 1265.6h3.6M787.8 1295.6h3.6M789.9 1265.9h3.6M789.9 1295.8h3.6M792 1266.1h3.6M792 1295.9h3.6M794.1 1266.4h3.6M794.1 1296.1h3.6M796.2 1266.6h3.6M796.2 1296.2h3.6M798.3 1266.9h3.6M798.3 1296.4h3.6M800.4 1267.1h3.6M800.4 1296.5h3.6M802.5 1267.4h3.6M802.5 1296.6h3.6M804.6 1267.6h3.6M804.6 1296.8h3.6M806.7 1267.8h3.6M806.7 1296.9h3.6M808.8 1268.1h3.6M808.8 1297.1h3.6M810.9 1268.3h3.6M810.9 1297.2h3.6M813 1268.6h3.6M813 1297.4h3.6M815.1 1268.8h3.6M815.1 1297.5h3.6M817.2 1269h3.6M817.2 1297.6h3.6M819.3 1269.3h3.6M819.3 1297.8h3.6M821.4 1269.5h3.6M821.4 1297.9h3.6M823.5 1269.7h3.6M823.5 1298h3.6M825.6 1270h3.6M825.6 1298.2h3.6M827.7 1270.2h3.6M827.7 1298.3h3.6M829.8 1270.4h3.6M829.8 1298.5h3.6M831.9 1270.6h3.6M831.9 1298.6h3.6M834 1270.9h3.6M834 1298.7h3.6M836.2 1271.1h3.6M836.2 1298.9h3.6M838.3 1271.3h3.6M838.3 1299h3.6M840.4 1271.5h3.6M840.4 1299.1h3.6M842.5 1271.7h3.6M842.5 1299.2h3.6M844.6 1271.9h3.6M844.6 1299.4h3.6M846.7 1272.2h3.6M846.7 1299.5h3.6M848.8 1272.4h3.6M848.8 1299.6h3.6M850.9 1272.6h3.6M850.9 1299.8h3.6M853 1272.8h3.6M853 1299.9h3.6M855.1 1273h3.6M855.1 1300h3.6M857.2 1273.2h3.6M857.2 1300.1h3.6M859.3 1273.4h3.6M859.3 1300.2h3.6M861.4 1273.6h3.6M861.4 1300.4h3.6M863.5 1273.8h3.6M863.5 1300.5h3.6M865.6 1274h3.6M865.6 1300.6h3.6M867.7 1274.2h3.6M867.7 1300.7h3.6M869.8 1274.4h3.6M869.8 1300.9h3.6M871.9 1274.6h3.6M871.9 1301h3.6M874 1274.8h3.6M874 1301.1h3.6M876.1 1275h3.6M876.1 1301.2h3.6M878.2 1275.2h3.6M878.2 1301.3h3.6M880.3 1275.4h3.6M880.3 1301.4h3.6M882.4 1275.6h3.6M882.4 1301.5h3.6M884.5 1275.8h3.6M884.5 1301.7h3.6M886.6 1275.9h3.6M886.6 1301.8h3.6M888.8 1276.1h3.6M888.8 1301.9h3.6M890.9 1276.3h3.6M890.9 1302h3.6M893 1276.5h3.6M893 1302.1h3.6M895.1 1276.7h3.6M895.1 1302.2h3.6M897.2 1276.8h3.6M897.2 1302.3h3.6M899.3 1277h3.6M899.3 1302.4h3.6M901.4 1277.2h3.6M901.4 1302.5h3.6M903.5 1277.4h3.6M903.5 1302.6h3.6M905.6 1277.5h3.6M905.6 1302.7h3.6M907.7 1277.7h3.6M907.7 1302.9h3.6M909.8 1277.9h3.6M909.8 1303h3.6M911.9 1278h3.6M911.9 1303.1h3.6M914 1278.2h3.6M914 1303.2h3.6M916.1 1278.4h3.6M916.1 1303.3h3.6M918.2 1278.5h3.6M918.2 1303.4h3.6M920.3 1278.7h3.6M920.3 1303.5h3.6M922.4 1278.9h3.6M922.4 1303.6h3.6M924.5 1279h3.6M924.5 1303.7h3.6M926.6 1279.2h3.6M926.6 1303.8h3.6M928.7 1279.3h3.6M928.7 1303.9h3.6M930.8 1279.5h3.6M930.8 1303.9h3.6M932.9 1279.6h3.6M932.9 1304h3.6M935 1279.8h3.6M935 1304.1h3.6M937.1 1279.9h3.6M937.1 1304.2h3.6M939.2 1280.1h3.6M939.2 1304.3h3.6M941.4 1280.2h3.6M941.4 1304.4h3.6M943.5 1280.4h3.6M943.5 1304.5h3.6M945.6 1280.5h3.6M945.6 1304.6h3.6M947.7 1280.7h3.6M947.7 1304.7h3.6M949.8 1280.8h3.6M949.8 1304.8h3.6M951.9 1280.9h3.6M951.9 1304.9h3.6M954 1281.1h3.6M954 1304.9h3.6M956.1 1281.2h3.6M956.1 1305h3.6M958.2 1281.4h3.6M958.2 1305.1h3.6M960.3 1281.5h3.6M960.3 1305.2h3.6M962.4 1281.6h3.6M962.4 1305.3h3.6M964.5 1281.7h3.6M964.5 1305.4h3.6" stroke="#2a2a2a" stroke-width="1.3" fill="none"/>
<path d="M968.4 1314.4V1330.4M970.5 1314.4V1330.4M972.6 1314.4V1330.4M974.7 1314.5V1330.4M976.8 1314.5V1330.4M978.9 1314.5V1330.4M981 1314.5V1330.4M983.1 1314.5V1330.4M985.2 1314.5V1330.4M987.3 1314.5V1330.4M989.4 1314.5V1330.4M991.5 1314.5V1330.4M993.6 1314.5V1330.4M995.8 1314.5V1330.4M997.9 1314.5V1330.4M1000 1314.5V1330.4M1002.1 1314.5V1330.4M1004.2 1314.5V1330.3M1006.3 1314.5V1330.3M1008.4 1314.5V1330.3M1010.5 1314.5V1330.3M1012.6 1314.5V1330.3M1014.7 1314.5V1330.3M1016.8 1314.5V1330.3M1018.9 1314.5V1330.3M1021 1314.5V1330.3M1023.1 1314.5V1330.3M1025.2 1314.5V1330.3M1027.3 1314.5V1330.2M1029.4 1314.4V1330.2M1031.5 1314.4V1330.2M1033.6 1314.4V1330.2M1035.7 1314.4V1330.2M1037.8 1314.4V1330.2M1039.9 1314.4V1330.2M1042 1314.3V1330.2M1044.1 1314.3V1330.1M1046.2 1314.3V1330.1M1048.4 1314.3V1330.1M1050.5 1314.2V1330.1M1052.6 1314.2V1330.1M1054.7 1314.2V1330.1M1056.8 1314.2V1330M1058.9 1314.1V1330M1061 1314.1V1330M1063.1 1314.1V1330M1065.2 1314V1330M1067.3 1314V1329.9M1069.4 1314V1329.9M1071.5 1313.9V1329.9M1073.6 1313.9V1329.9M1075.7 1313.9V1329.9M1077.8 1313.8V1329.8M1079.9 1313.8V1329.8M1082 1313.7V1329.8M1084.1 1313.7V1329.8M1086.2 1313.7V1329.8M1088.3 1313.6V1329.7M1090.4 1313.6V1329.7M1092.5 1313.5V1329.7M1094.6 1313.5V1329.7M1096.7 1313.4V1329.6M1098.8 1313.4V1329.6M1101 1313.3V1329.6M1103.1 1313.3V1329.6M1105.2 1313.2V1329.5M1107.3 1313.2V1329.5M1109.4 1313.1V1329.5M1111.5 1313V1329.4M1113.6 1313V1329.4M1115.7 1312.9V1329.4M1117.8 1312.9V1329.4M1119.9 1312.8V1329.3M1122 1312.7V1329.3M1124.1 1312.7V1329.3M1126.2 1312.6V1329.2M1128.3 1312.6V1329.2M1130.4 1312.5V1329.2M1132.5 1312.4V1329.1M1134.6 1312.4V1329.1M1136.7 1312.3V1329.1M1138.8 1312.2V1329M1140.9 1312.1V1329M1143 1312.1V1329M1145.1 1312V1328.9M1147.2 1311.9V1328.9M1149.3 1311.8V1328.9M1151.4 1311.8V1328.8M1153.6 1311.7V1328.8M1155.7 1311.6V1328.8M1157.8 1311.5V1328.7M1159.9 1324.1V1338.7M1162 1324V1338.6M1164.1 1323.9V1338.6M1166.2 1323.8V1338.5M1168.3 1323.6V1338.5M1170.4 1323.5V1338.4M1172.5 1323.4V1338.3M1174.6 1323.3V1338.3M1176.7 1323.1V1338.2M1178.8 1323V1338.2M1180.9 1322.9V1338.1M1183 1322.8V1338.1M1185.1 1322.6V1338M1187.3 1322.5V1337.9M1189.4 1322.4V1337.9M1191.5 1322.3V1337.8M1193.6 1322.1V1337.8M1195.7 1322V1337.7M1197.8 1321.9V1337.6M1199.9 1321.7V1337.6M1202 1321.6V1337.5M1204.1 1321.5V1337.4M1206.2 1321.3V1337.4M1208.3 1321.2V1337.3M1210.4 1321.1V1337.2M1212.5 1320.9V1337.1M1214.6 1320.8V1337.1M1216.7 1320.7V1337M1218.8 1320.5V1336.9M1220.9 1320.4V1336.9M1223 1320.2V1336.8M1225.1 1320.1V1336.7M1227.2 1320V1336.6M1229.3 1319.8V1336.6M1231.4 1319.7V1336.5M1233.5 1319.5V1336.4M1235.6 1319.4V1336.3M1237.7 1319.3V1336.2M1239.9 1319.1V1336.2M1242 1319V1336.1M1244.1 1318.8V1336M1246.2 1318.7V1335.9M1248.3 1318.5V1335.8M1250.4 1318.4V1335.8M1252.5 1318.2V1335.7M1254.6 1318.1V1335.6M1256.7 1318V1335.5M1258.8 1317.8V1335.4M1260.9 1317.7V1335.3M1263 1317.5V1335.2M1265.1 1317.4V1335.1M1267.2 1317.2V1335.1M1269.3 1317V1335M1271.4 1316.9V1334.9M1273.5 1316.7V1334.8M1275.6 1316.6V1334.7M1277.7 1316.4V1334.6M1279.8 1316.3V1334.5M1281.9 1316.1V1334.4M1284 1316V1334.3M1286.1 1315.8V1334.2M1288.2 1315.7V1334.1M1290.3 1315.5V1334M1292.5 1315.3V1333.9M1294.6 1315.2V1333.8M1296.7 1315V1333.7M1298.8 1314.9V1333.6M1300.9 1314.7V1333.5M1303 1314.5V1333.4M1305.1 1314.4V1333.3M1307.2 1314.2V1333.2M1309.3 1314V1333.1M1311.4 1313.9V1333M1313.5 1313.7V1332.9M1315.6 1313.5V1332.8M1317.7 1313.4V1332.7M1319.8 1313.2V1332.5M1321.9 1313V1332.4M1324 1312.9V1332.3M1326.1 1312.7V1332.2M1328.2 1312.5V1332.1M1330.3 1312.4V1332M1332.4 1312.2V1331.9M1334.5 1312V1331.8M1336.6 1311.9V1331.6M1338.7 1311.7V1331.5M1340.8 1311.5V1331.4M1342.9 1311.3V1331.3M1345.1 1311.2V1331.2M1347.2 1311V1331M1349.3 1310.8V1330.9M1351.4 1310.6V1330.8M1353.5 1310.5V1330.7M1355.6 1310.3V1330.6M1357.7 1322.9V1338.6M1359.8 1322.7V1338.5M1361.9 1322.6V1338.5M1364 1322.4V1338.4M1366.1 1322.2V1338.3M1368.2 1322.1V1338.3M1370.3 1321.9V1338.2M1372.4 1321.7V1338.2M1374.5 1321.6V1338.1M1376.6 1321.4V1338M1378.7 1321.2V1338M1380.8 1321V1337.9M1382.9 1320.9V1337.8M1385.1 1320.7V1337.7M1387.2 1320.5V1337.7M1389.3 1320.3V1337.6M1391.4 1320.1V1337.5M1393.5 1319.9V1337.4M1395.6 1319.8V1337.3M1397.7 1319.6V1337.3M1399.8 1319.4V1337.2M1401.9 1319.2V1337.1M1404 1319V1337M1406.1 1318.8V1336.9M1408.2 1318.6V1336.8M1410.3 1318.4V1336.7M1412.4 1318.2V1336.6M1414.5 1318V1336.5M1416.6 1317.8V1336.4M1418.7 1317.6V1336.3M1420.8 1317.4V1336.2M1422.9 1317.2V1336.1M1425 1317V1336M1427.1 1316.8V1335.9M1429.2 1316.6V1335.8M1431.3 1316.4V1335.7M1433.4 1316.2V1335.6M1435.5 1316V1335.5M1437.7 1315.8V1335.4M1439.8 1315.5V1335.3M1441.9 1315.3V1335.2M1444 1315.1V1335M1446.1 1314.9V1334.9M1448.2 1314.7V1334.8M1450.3 1314.5V1334.7M1452.4 1314.2V1334.6M1454.5 1314V1334.4M1456.6 1313.8V1334.3M1458.7 1313.6V1334.2M1460.8 1313.3V1334.1M1462.9 1313.1V1333.9M1465 1312.9V1333.8M1467.1 1312.7V1333.7M1469.2 1312.4V1333.5M1471.3 1312.2V1333.4M1473.4 1312V1333.2M1475.5 1311.7V1333.1M1477.6 1311.5V1333M1479.7 1311.3V1332.8M1481.8 1311V1332.7M1483.9 1310.8V1332.5M1486 1310.5V1332.4M1488.1 1310.3V1332.2M1490.3 1310V1332.1M1492.4 1309.8V1331.9M1494.5 1309.6V1331.8M1496.6 1309.3V1331.6M1498.7 1309.1V1331.5M1500.8 1308.8V1331.3M1502.9 1308.6V1331.2M1505 1308.3V1331M1507.1 1308.1V1330.8M1509.2 1307.8V1330.7M1511.3 1307.5V1330.5M1513.4 1307.3V1330.3M1516.9 1306.8V1330.1M1519 1306.6V1329.9M1521.1 1306.3V1329.7M1523.2 1306.1V1329.5M1525.3 1305.8V1329.4M1529.5 1305.3V1329M1531.6 1305V1328.8M1533.7 1304.7V1328.7M1535.8 1304.5V1328.5M1540 1303.9V1328.1M1542.1 1303.6V1327.9M966.6 1314.4h3.6M966.6 1330.4h3.6M968.7 1314.4h3.6M968.7 1330.4h3.6M970.8 1314.4h3.6M970.8 1330.4h3.6M972.9 1314.5h3.6M972.9 1330.4h3.6M975 1314.5h3.6M975 1330.4h3.6M977.1 1314.5h3.6M977.1 1330.4h3.6M979.2 1314.5h3.6M979.2 1330.4h3.6M981.3 1314.5h3.6M981.3 1330.4h3.6M983.4 1314.5h3.6M983.4 1330.4h3.6M985.5 1314.5h3.6M985.5 1330.4h3.6M987.6 1314.5h3.6M987.6 1330.4h3.6M989.7 1314.5h3.6M989.7 1330.4h3.6M991.8 1314.5h3.6M991.8 1330.4h3.6M994 1314.5h3.6M994 1330.4h3.6M996.1 1314.5h3.6M996.1 1330.4h3.6M998.2 1314.5h3.6M998.2 1330.4h3.6M1000.3 1314.5h3.6M1000.3 1330.4h3.6M1002.4 1314.5h3.6M1002.4 1330.3h3.6M1004.5 1314.5h3.6M1004.5 1330.3h3.6M1006.6 1314.5h3.6M1006.6 1330.3h3.6M1008.7 1314.5h3.6M1008.7 1330.3h3.6M1010.8 1314.5h3.6M1010.8 1330.3h3.6M1012.9 1314.5h3.6M1012.9 1330.3h3.6M1015 1314.5h3.6M1015 1330.3h3.6M1017.1 1314.5h3.6M1017.1 1330.3h3.6M1019.2 1314.5h3.6M1019.2 1330.3h3.6M1021.3 1314.5h3.6M1021.3 1330.3h3.6M1023.4 1314.5h3.6M1023.4 1330.3h3.6M1025.5 1314.5h3.6M1025.5 1330.2h3.6M1027.6 1314.4h3.6M1027.6 1330.2h3.6M1029.7 1314.4h3.6M1029.7 1330.2h3.6M1031.8 1314.4h3.6M1031.8 1330.2h3.6M1033.9 1314.4h3.6M1033.9 1330.2h3.6M1036 1314.4h3.6M1036 1330.2h3.6M1038.1 1314.4h3.6M1038.1 1330.2h3.6M1040.2 1314.3h3.6M1040.2 1330.2h3.6M1042.3 1314.3h3.6M1042.3 1330.1h3.6M1044.4 1314.3h3.6M1044.4 1330.1h3.6M1046.6 1314.3h3.6M1046.6 1330.1h3.6M1048.7 1314.2h3.6M1048.7 1330.1h3.6M1050.8 1314.2h3.6M1050.8 1330.1h3.6M1052.9 1314.2h3.6M1052.9 1330.1h3.6M1055 1314.2h3.6M1055 1330h3.6M1057.1 1314.1h3.6M1057.1 1330h3.6M1059.2 1314.1h3.6M1059.2 1330h3.6M1061.3 1314.1h3.6M1061.3 1330h3.6M1063.4 1314h3.6M1063.4 1330h3.6M1065.5 1314h3.6M1065.5 1329.9h3.6M1067.6 1314h3.6M1067.6 1329.9h3.6M1069.7 1313.9h3.6M1069.7 1329.9h3.6M1071.8 1313.9h3.6M1071.8 1329.9h3.6M1073.9 1313.9h3.6M1073.9 1329.9h3.6M1076 1313.8h3.6M1076 1329.8h3.6M1078.1 1313.8h3.6M1078.1 1329.8h3.6M1080.2 1313.7h3.6M1080.2 1329.8h3.6M1082.3 1313.7h3.6M1082.3 1329.8h3.6M1084.4 1313.7h3.6M1084.4 1329.8h3.6M1086.5 1313.6h3.6M1086.5 1329.7h3.6M1088.6 1313.6h3.6M1088.6 1329.7h3.6M1090.7 1313.5h3.6M1090.7 1329.7h3.6M1092.8 1313.5h3.6M1092.8 1329.7h3.6M1094.9 1313.4h3.6M1094.9 1329.6h3.6M1097 1313.4h3.6M1097 1329.6h3.6M1099.2 1313.3h3.6M1099.2 1329.6h3.6M1101.3 1313.3h3.6M1101.3 1329.6h3.6M1103.4 1313.2h3.6M1103.4 1329.5h3.6M1105.5 1313.2h3.6M1105.5 1329.5h3.6M1107.6 1313.1h3.6M1107.6 1329.5h3.6M1109.7 1313h3.6M1109.7 1329.4h3.6M1111.8 1313h3.6M1111.8 1329.4h3.6M1113.9 1312.9h3.6M1113.9 1329.4h3.6M1116 1312.9h3.6M1116 1329.4h3.6M1118.1 1312.8h3.6M1118.1 1329.3h3.6M1120.2 1312.7h3.6M1120.2 1329.3h3.6M1122.3 1312.7h3.6M1122.3 1329.3h3.6M1124.4 1312.6h3.6M1124.4 1329.2h3.6M1126.5 1312.6h3.6M1126.5 1329.2h3.6M1128.6 1312.5h3.6M1128.6 1329.2h3.6M1130.7 1312.4h3.6M1130.7 1329.1h3.6M1132.8 1312.4h3.6M1132.8 1329.1h3.6M1134.9 1312.3h3.6M1134.9 1329.1h3.6M1137 1312.2h3.6M1137 1329h3.6M1139.1 1312.1h3.6M1139.1 1329h3.6M1141.2 1312.1h3.6M1141.2 1329h3.6M1143.3 1312h3.6M1143.3 1328.9h3.6M1145.4 1311.9h3.6M1145.4 1328.9h3.6M1147.5 1311.8h3.6M1147.5 1328.9h3.6M1149.6 1311.8h3.6M1149.6 1328.8h3.6M1151.8 1311.7h3.6M1151.8 1328.8h3.6M1153.9 1311.6h3.6M1153.9 1328.8h3.6M1156 1311.5h3.6M1156 1328.7h3.6M1158.1 1324.1h3.6M1158.1 1338.7h3.6M1160.2 1324h3.6M1160.2 1338.6h3.6M1162.3 1323.9h3.6M1162.3 1338.6h3.6M1164.4 1323.8h3.6M1164.4 1338.5h3.6M1166.5 1323.6h3.6M1166.5 1338.5h3.6M1168.6 1323.5h3.6M1168.6 1338.4h3.6M1170.7 1323.4h3.6M1170.7 1338.3h3.6M1172.8 1323.3h3.6M1172.8 1338.3h3.6M1174.9 1323.1h3.6M1174.9 1338.2h3.6M1177 1323h3.6M1177 1338.2h3.6M1179.1 1322.9h3.6M1179.1 1338.1h3.6M1181.2 1322.8h3.6M1181.2 1338.1h3.6M1183.3 1322.6h3.6M1183.3 1338h3.6M1185.5 1322.5h3.6M1185.5 1337.9h3.6M1187.6 1322.4h3.6M1187.6 1337.9h3.6M1189.7 1322.3h3.6M1189.7 1337.8h3.6M1191.8 1322.1h3.6M1191.8 1337.8h3.6M1193.9 1322h3.6M1193.9 1337.7h3.6M1196 1321.9h3.6M1196 1337.6h3.6M1198.1 1321.7h3.6M1198.1 1337.6h3.6M1200.2 1321.6h3.6M1200.2 1337.5h3.6M1202.3 1321.5h3.6M1202.3 1337.4h3.6M1204.4 1321.3h3.6M1204.4 1337.4h3.6M1206.5 1321.2h3.6M1206.5 1337.3h3.6M1208.6 1321.1h3.6M1208.6 1337.2h3.6M1210.7 1320.9h3.6M1210.7 1337.1h3.6M1212.8 1320.8h3.6M1212.8 1337.1h3.6M1214.9 1320.7h3.6M1214.9 1337h3.6M1217 1320.5h3.6M1217 1336.9h3.6M1219.1 1320.4h3.6M1219.1 1336.9h3.6M1221.2 1320.2h3.6M1221.2 1336.8h3.6M1223.3 1320.1h3.6M1223.3 1336.7h3.6M1225.4 1320h3.6M1225.4 1336.6h3.6M1227.5 1319.8h3.6M1227.5 1336.6h3.6M1229.6 1319.7h3.6M1229.6 1336.5h3.6M1231.7 1319.5h3.6M1231.7 1336.4h3.6M1233.8 1319.4h3.6M1233.8 1336.3h3.6M1235.9 1319.3h3.6M1235.9 1336.2h3.6M1238.1 1319.1h3.6M1238.1 1336.2h3.6M1240.2 1319h3.6M1240.2 1336.1h3.6M1242.3 1318.8h3.6M1242.3 1336h3.6M1244.4 1318.7h3.6M1244.4 1335.9h3.6M1246.5 1318.5h3.6M1246.5 1335.8h3.6M1248.6 1318.4h3.6M1248.6 1335.8h3.6M1250.7 1318.2h3.6M1250.7 1335.7h3.6M1252.8 1318.1h3.6M1252.8 1335.6h3.6M1254.9 1318h3.6M1254.9 1335.5h3.6M1257 1317.8h3.6M1257 1335.4h3.6M1259.1 1317.7h3.6M1259.1 1335.3h3.6M1261.2 1317.5h3.6M1261.2 1335.2h3.6M1263.3 1317.4h3.6M1263.3 1335.1h3.6M1265.4 1317.2h3.6M1265.4 1335.1h3.6M1267.5 1317h3.6M1267.5 1335h3.6M1269.6 1316.9h3.6M1269.6 1334.9h3.6M1271.7 1316.7h3.6M1271.7 1334.8h3.6M1273.8 1316.6h3.6M1273.8 1334.7h3.6M1275.9 1316.4h3.6M1275.9 1334.6h3.6M1278 1316.3h3.6M1278 1334.5h3.6M1280.1 1316.1h3.6M1280.1 1334.4h3.6M1282.2 1316h3.6M1282.2 1334.3h3.6M1284.3 1315.8h3.6M1284.3 1334.2h3.6M1286.4 1315.7h3.6M1286.4 1334.1h3.6M1288.5 1315.5h3.6M1288.5 1334h3.6M1290.7 1315.3h3.6M1290.7 1333.9h3.6M1292.8 1315.2h3.6M1292.8 1333.8h3.6M1294.9 1315h3.6M1294.9 1333.7h3.6M1297 1314.9h3.6M1297 1333.6h3.6M1299.1 1314.7h3.6M1299.1 1333.5h3.6M1301.2 1314.5h3.6M1301.2 1333.4h3.6M1303.3 1314.4h3.6M1303.3 1333.3h3.6M1305.4 1314.2h3.6M1305.4 1333.2h3.6M1307.5 1314h3.6M1307.5 1333.1h3.6M1309.6 1313.9h3.6M1309.6 1333h3.6M1311.7 1313.7h3.6M1311.7 1332.9h3.6M1313.8 1313.5h3.6M1313.8 1332.8h3.6M1315.9 1313.4h3.6M1315.9 1332.7h3.6M1318 1313.2h3.6M1318 1332.5h3.6M1320.1 1313h3.6M1320.1 1332.4h3.6M1322.2 1312.9h3.6M1322.2 1332.3h3.6M1324.3 1312.7h3.6M1324.3 1332.2h3.6M1326.4 1312.5h3.6M1326.4 1332.1h3.6M1328.5 1312.4h3.6M1328.5 1332h3.6M1330.6 1312.2h3.6M1330.6 1331.9h3.6M1332.7 1312h3.6M1332.7 1331.8h3.6M1334.8 1311.9h3.6M1334.8 1331.6h3.6M1336.9 1311.7h3.6M1336.9 1331.5h3.6M1339 1311.5h3.6M1339 1331.4h3.6M1341.1 1311.3h3.6M1341.1 1331.3h3.6M1343.3 1311.2h3.6M1343.3 1331.2h3.6M1345.4 1311h3.6M1345.4 1331h3.6M1347.5 1310.8h3.6M1347.5 1330.9h3.6M1349.6 1310.6h3.6M1349.6 1330.8h3.6M1351.7 1310.5h3.6M1351.7 1330.7h3.6M1353.8 1310.3h3.6M1353.8 1330.6h3.6M1355.9 1322.9h3.6M1355.9 1338.6h3.6M1358 1322.7h3.6M1358 1338.5h3.6M1360.1 1322.6h3.6M1360.1 1338.5h3.6M1362.2 1322.4h3.6M1362.2 1338.4h3.6M1364.3 1322.2h3.6M1364.3 1338.3h3.6M1366.4 1322.1h3.6M1366.4 1338.3h3.6M1368.5 1321.9h3.6M1368.5 1338.2h3.6M1370.6 1321.7h3.6M1370.6 1338.2h3.6M1372.7 1321.6h3.6M1372.7 1338.1h3.6M1374.8 1321.4h3.6M1374.8 1338h3.6M1376.9 1321.2h3.6M1376.9 1338h3.6M1379 1321h3.6M1379 1337.9h3.6M1381.1 1320.9h3.6M1381.1 1337.8h3.6M1383.3 1320.7h3.6M1383.3 1337.7h3.6M1385.4 1320.5h3.6M1385.4 1337.7h3.6M1387.5 1320.3h3.6M1387.5 1337.6h3.6M1389.6 1320.1h3.6M1389.6 1337.5h3.6M1391.7 1319.9h3.6M1391.7 1337.4h3.6M1393.8 1319.8h3.6M1393.8 1337.3h3.6M1395.9 1319.6h3.6M1395.9 1337.3h3.6M1398 1319.4h3.6M1398 1337.2h3.6M1400.1 1319.2h3.6M1400.1 1337.1h3.6M1402.2 1319h3.6M1402.2 1337h3.6M1404.3 1318.8h3.6M1404.3 1336.9h3.6M1406.4 1318.6h3.6M1406.4 1336.8h3.6M1408.5 1318.4h3.6M1408.5 1336.7h3.6M1410.6 1318.2h3.6M1410.6 1336.6h3.6M1412.7 1318h3.6M1412.7 1336.5h3.6M1414.8 1317.8h3.6M1414.8 1336.4h3.6M1416.9 1317.6h3.6M1416.9 1336.3h3.6M1419 1317.4h3.6M1419 1336.2h3.6M1421.1 1317.2h3.6M1421.1 1336.1h3.6M1423.2 1317h3.6M1423.2 1336h3.6M1425.3 1316.8h3.6M1425.3 1335.9h3.6M1427.4 1316.6h3.6M1427.4 1335.8h3.6M1429.5 1316.4h3.6M1429.5 1335.7h3.6M1431.6 1316.2h3.6M1431.6 1335.6h3.6M1433.7 1316h3.6M1433.7 1335.5h3.6M1435.9 1315.8h3.6M1435.9 1335.4h3.6M1438 1315.5h3.6M1438 1335.3h3.6M1440.1 1315.3h3.6M1440.1 1335.2h3.6M1442.2 1315.1h3.6M1442.2 1335h3.6M1444.3 1314.9h3.6M1444.3 1334.9h3.6M1446.4 1314.7h3.6M1446.4 1334.8h3.6M1448.5 1314.5h3.6M1448.5 1334.7h3.6M1450.6 1314.2h3.6M1450.6 1334.6h3.6M1452.7 1314h3.6M1452.7 1334.4h3.6M1454.8 1313.8h3.6M1454.8 1334.3h3.6M1456.9 1313.6h3.6M1456.9 1334.2h3.6M1459 1313.3h3.6M1459 1334.1h3.6M1461.1 1313.1h3.6M1461.1 1333.9h3.6M1463.2 1312.9h3.6M1463.2 1333.8h3.6M1465.3 1312.7h3.6M1465.3 1333.7h3.6M1467.4 1312.4h3.6M1467.4 1333.5h3.6M1469.5 1312.2h3.6M1469.5 1333.4h3.6M1471.6 1312h3.6M1471.6 1333.2h3.6M1473.7 1311.7h3.6M1473.7 1333.1h3.6M1475.8 1311.5h3.6M1475.8 1333h3.6M1477.9 1311.3h3.6M1477.9 1332.8h3.6M1480 1311h3.6M1480 1332.7h3.6M1482.1 1310.8h3.6M1482.1 1332.5h3.6M1484.2 1310.5h3.6M1484.2 1332.4h3.6M1486.3 1310.3h3.6M1486.3 1332.2h3.6M1488.5 1310h3.6M1488.5 1332.1h3.6M1490.6 1309.8h3.6M1490.6 1331.9h3.6M1492.7 1309.6h3.6M1492.7 1331.8h3.6M1494.8 1309.3h3.6M1494.8 1331.6h3.6M1496.9 1309.1h3.6M1496.9 1331.5h3.6M1499 1308.8h3.6M1499 1331.3h3.6M1501.1 1308.6h3.6M1501.1 1331.2h3.6M1503.2 1308.3h3.6M1503.2 1331h3.6M1505.3 1308.1h3.6M1505.3 1330.8h3.6M1507.4 1307.8h3.6M1507.4 1330.7h3.6M1509.5 1307.5h3.6M1509.5 1330.5h3.6M1511.6 1307.3h3.6M1511.6 1330.3h3.6M1515.1 1306.8h3.6M1515.1 1330.1h3.6M1517.2 1306.6h3.6M1517.2 1329.9h3.6M1519.3 1306.3h3.6M1519.3 1329.7h3.6M1521.4 1306.1h3.6M1521.4 1329.5h3.6M1523.5 1305.8h3.6M1523.5 1329.4h3.6M1527.7 1305.3h3.6M1527.7 1329h3.6M1529.8 1305h3.6M1529.8 1328.8h3.6M1531.9 1304.7h3.6M1531.9 1328.7h3.6M1534 1304.5h3.6M1534 1328.5h3.6M1538.2 1303.9h3.6M1538.2 1328.1h3.6M1540.3 1303.6h3.6M1540.3 1327.9h3.6" stroke="#1a1a1a" stroke-width="1.5" fill="none"/>
<path d="M134.9 920.2h0M136.7 920.2h0M258.9 987.7h0M260.7 987.7h0M321.7 1020.9h0M324 1020.9h0M334.3 1027.6h0M336.7 1027.6h0M354.3 1036.5h0M356.4 1037.5h0M358.5 1038.6h0M360.2 1039.4h0M371.6 1044.9h0M373.7 1045.9h0M375.8 1047h0M377.9 1048h0M383.8 1050.8h0M385.9 1051.8h0M388 1052.8h0M390.1 1053.8h0M392.2 1054.8h0M394.3 1055.8h0M399.2 1058.1h0M401.3 1059.1h0M403.4 1060h0M405.5 1061h0M407.6 1062h0M409.7 1063h0M411.8 1064h0M418.2 1066.9h0M420.3 1067.9h0M422.4 1068.8h0M426.3 1070.6h0M428.4 1071.6h0M430.5 1072.5h0M432.6 1073.5h0M434.7 1074.4h0M436.8 1075.4h0M441.7 1077.6h0M443.8 1078.5h0M445.9 1079.5h0M449.9 1081.2h0M452 1082.2h0M454.1 1083.1h0M456.2 1084h0M458.3 1084.9h0M460.4 1085.9h0M462.5 1086.8h0M464.6 1087.7h0M468.9 1089.6h0M471 1090.5h0M473.1 1091.4h0M475.2 1092.3h0M483.4 1095.8h0M485.5 1096.7h0M487.6 1097.5h0M489.7 1098.4h0M492.4 1099.6h0M494.5 1100.4h0M496.6 1101.3h0M500.8 1103.1h0M502.9 1103.9h0M505 1104.8h0M507.1 1105.7h0M509.2 1106.5h0M511.3 1107.4h0M513.4 1108.3h0M515.5 1109.1h0M519.8 1110.8h0M521.9 1111.7h0M524 1112.5h0M526.1 1113.3h0M528.2 1114.2h0M530.3 1115h0M532.4 1115.8h0M534.5 1116.7h0M536.6 1117.5h0M538.7 1118.3h0M540.8 1119.1h0M542.9 1120h0M545 1120.8h0M547.1 1121.6h0M549.2 1122.4h0M551.3 1123.2h0M553.4 1124h0M555.5 1124.8h0M557.6 1125.6h0M559.7 1126.4h0M561.8 1127.2h0M563.9 1128h0M566 1128.8h0M568.1 1129.6h0M570.2 1130.4h0M572.4 1131.1h0M574.5 1131.9h0M576.6 1132.7h0M578.7 1133.5h0M580.8 1134.2h0M582.9 1135h0M585 1135.7h0M587.1 1136.5h0M589.2 1137.3h0M591.3 1138h0M593.4 1138.8h0M595.5 1139.5h0M597.6 1140.2h0M599.7 1141h0M601.8 1141.7h0M603.9 1142.5h0M606 1143.2h0M608.1 1143.9h0M610.2 1144.6h0M612.3 1145.4h0M614.4 1146.1h0M616.5 1146.8h0M618.6 1147.5h0M620.7 1148.2h0M622.8 1148.9h0M625 1149.6h0M627.1 1150.3h0M629.2 1151h0M631.3 1151.7h0M633.4 1152.4h0M635.5 1153.1h0M637.6 1153.8h0M639.7 1154.5h0M641.8 1155.1h0M643.9 1155.8h0M646 1156.5h0M648.1 1157.2h0M650.2 1157.8h0M652.3 1158.5h0M654.4 1159.1h0M656.5 1159.8h0M658.6 1160.5h0M660.7 1161.1h0M662.8 1161.7h0M664.9 1162.4h0M667 1163h0M669.1 1163.7h0M671.2 1164.3h0M673.3 1164.9h0M675.4 1165.6h0M677.6 1166.2h0M679.7 1166.8h0M681.8 1167.4h0M683.9 1168h0M686 1168.6h0M688.1 1169.2h0M690.2 1169.8h0M692.3 1170.4h0M694.4 1171h0M696.5 1171.6h0M698.6 1172.2h0M700.7 1172.8h0M702.8 1173.4h0M704.9 1174h0M707 1174.5h0M709.1 1175.1h0M711.2 1175.7h0M713.3 1176.2h0M715.4 1176.8h0M717.5 1177.4h0M719.6 1177.9h0M721.7 1178.5h0M723.8 1179h0M725.9 1179.5h0M728 1180.1h0M730.2 1180.6h0M732.3 1181.2h0M734.4 1181.7h0M736.5 1182.2h0M738.6 1182.7h0M742.8 1183.8h0M744.9 1184.3h0M747 1184.8h0M749.1 1185.3h0M751.2 1185.8h0M753.3 1186.3h0M755.4 1186.8h0M758 1278.1h0M760.1 1278.3h0M762.2 1278.5h0M764.3 1278.7h0M766.4 1278.9h0M768.5 1279.1h0M770.6 1279.3h0M772.7 1279.5h0M774.8 1279.7h0M776.9 1279.9h0M779 1280.1h0M781.1 1280.3h0M783.2 1280.5h0M785.4 1280.7h0M787.5 1280.9h0M789.6 1281.1h0M791.7 1281.3h0M793.8 1281.5h0M795.9 1281.7h0M798 1281.9h0M800.1 1282.1h0M802.2 1282.3h0M804.3 1282.5h0M806.4 1282.6h0M808.5 1282.8h0M810.6 1283h0M812.7 1283.2h0M814.8 1283.4h0M816.9 1283.6h0M819 1283.7h0M821.1 1283.9h0M823.2 1284.1h0M825.3 1284.3h0M827.4 1284.5h0M829.5 1284.6h0M831.6 1284.8h0M833.7 1285h0M835.8 1285.2h0M838 1285.3h0M840.1 1285.5h0M842.2 1285.7h0M844.3 1285.8h0M846.4 1286h0M848.5 1286.2h0M850.6 1286.3h0M852.7 1286.5h0M854.8 1286.7h0M856.9 1286.8h0M859 1287h0M861.1 1287.1h0M863.2 1287.3h0M865.3 1287.4h0M867.4 1287.6h0M869.5 1287.8h0M871.6 1287.9h0M873.7 1288.1h0M875.8 1288.2h0M877.9 1288.4h0M880 1288.5h0M882.1 1288.7h0M884.2 1288.8h0M886.3 1289h0M888.4 1289.1h0M890.6 1289.3h0M892.7 1289.4h0M894.8 1289.5h0M896.9 1289.7h0M899 1289.8h0M901.1 1290h0M903.2 1290.1h0M905.3 1290.2h0M907.4 1290.4h0M909.5 1290.5h0M911.6 1290.6h0M913.7 1290.8h0M915.8 1290.9h0M917.9 1291h0M920 1291.2h0M922.1 1291.3h0M924.2 1291.4h0M926.3 1291.5h0M928.4 1291.7h0M930.5 1291.8h0M932.6 1291.9h0M934.7 1292h0M936.8 1292.2h0M938.9 1292.3h0M941 1292.4h0M943.2 1292.5h0M945.3 1292.6h0M947.4 1292.8h0M949.5 1292.9h0M951.6 1293h0M953.7 1293.1h0M955.8 1293.2h0M957.9 1293.3h0M960 1293.4h0M962.1 1293.5h0M964.2 1293.6h0M966.3 1293.8h0M968.4 1322.8h0M970.5 1322.8h0M972.6 1322.9h0M974.7 1322.9h0M976.8 1322.9h0M978.9 1322.9h0M981 1322.9h0M983.1 1322.9h0M985.2 1323h0M987.3 1323h0M989.4 1323h0M991.5 1323h0M993.6 1323h0M995.8 1323h0M997.9 1323h0M1000 1323h0M1002.1 1323h0M1004.2 1323h0M1006.3 1323h0M1008.4 1323h0M1010.5 1323.1h0M1012.6 1323.1h0M1014.7 1323.1h0M1016.8 1323.1h0M1018.9 1323h0M1021 1323h0M1023.1 1323h0M1025.2 1323h0M1027.3 1323h0M1029.4 1323h0M1031.5 1323h0M1033.6 1323h0M1035.7 1323h0M1037.8 1323h0M1039.9 1323h0M1042 1323h0M1044.1 1322.9h0M1046.2 1322.9h0M1048.4 1322.9h0M1050.5 1322.9h0M1052.6 1322.9h0M1054.7 1322.9h0M1056.8 1322.8h0M1058.9 1322.8h0M1061 1322.8h0M1063.1 1322.8h0M1065.2 1322.7h0M1067.3 1322.7h0M1069.4 1322.7h0M1071.5 1322.7h0M1073.6 1322.6h0M1075.7 1322.6h0M1077.8 1322.6h0M1079.9 1322.5h0M1082 1322.5h0M1084.1 1322.5h0M1086.2 1322.4h0M1088.3 1322.4h0M1090.4 1322.4h0M1092.5 1322.3h0M1094.6 1322.3h0M1096.7 1322.2h0M1098.8 1322.2h0M1101 1322.2h0M1103.1 1322.1h0M1105.2 1322.1h0M1107.3 1322h0M1109.4 1322h0M1111.5 1321.9h0M1113.6 1321.9h0M1115.7 1321.8h0M1117.8 1321.8h0M1119.9 1321.7h0M1122 1321.7h0M1124.1 1321.6h0M1126.2 1321.6h0M1128.3 1321.5h0M1130.4 1321.5h0M1132.5 1321.4h0M1134.6 1321.3h0M1136.7 1321.3h0M1138.8 1321.2h0M1140.9 1321.2h0M1143 1321.1h0M1145.1 1321h0M1147.2 1321h0M1149.3 1320.9h0M1151.4 1320.8h0M1153.6 1320.8h0M1155.7 1320.7h0M1157.8 1320.6h0M1159.9 1331.4h0M1162 1331.3h0M1164.1 1331.2h0M1166.2 1331.2h0M1168.3 1331.1h0M1170.4 1331.1h0M1172.5 1331h0M1174.6 1330.9h0M1176.7 1330.9h0M1178.8 1330.8h0M1180.9 1330.7h0M1183 1330.7h0M1185.1 1330.6h0M1187.3 1330.5h0M1189.4 1330.4h0M1191.5 1330.4h0M1193.6 1330.3h0M1195.7 1330.2h0M1197.8 1330.1h0M1199.9 1330h0M1202 1330h0M1204.1 1329.9h0M1206.2 1329.8h0M1208.3 1329.7h0M1210.4 1329.6h0M1212.5 1329.5h0M1214.6 1329.5h0M1216.7 1329.4h0M1218.8 1329.3h0M1220.9 1329.2h0M1223 1329.1h0M1225.1 1329h0M1227.2 1328.9h0M1229.3 1328.8h0M1231.4 1328.7h0M1233.5 1328.6h0M1235.6 1328.5h0M1237.7 1328.4h0M1239.9 1328.3h0M1242 1328.2h0M1244.1 1328.1h0M1246.2 1328h0M1248.3 1327.9h0M1250.4 1327.8h0M1252.5 1327.7h0M1254.6 1327.6h0M1256.7 1327.5h0M1258.8 1327.4h0M1260.9 1327.2h0M1263 1327.1h0M1265.1 1327h0M1267.2 1326.9h0M1269.3 1326.8h0M1271.4 1326.7h0M1273.5 1326.5h0M1275.6 1326.4h0M1277.7 1326.3h0M1279.8 1326.2h0M1281.9 1326.1h0M1284 1325.9h0M1286.1 1325.8h0M1288.2 1325.7h0M1290.3 1325.5h0M1292.5 1325.4h0M1294.6 1325.3h0M1296.7 1325.1h0M1298.8 1325h0M1300.9 1324.9h0M1303 1324.7h0M1305.1 1324.6h0M1307.2 1324.5h0M1309.3 1324.3h0M1311.4 1324.2h0M1313.5 1324h0M1315.6 1323.9h0M1317.7 1323.8h0M1319.8 1323.6h0M1321.9 1323.5h0M1324 1323.3h0M1326.1 1323.2h0M1328.2 1323h0M1330.3 1322.9h0M1332.4 1322.7h0M1334.5 1322.6h0M1336.6 1322.4h0M1338.7 1322.3h0M1340.8 1322.1h0M1342.9 1321.9h0M1345.1 1321.8h0M1347.2 1321.6h0M1349.3 1321.5h0M1351.4 1321.3h0M1353.5 1321.1h0M1355.6 1321h0M1357.7 1329.4h0M1359.8 1329.3h0M1361.9 1329.2h0M1364 1329.1h0M1366.1 1329h0M1368.2 1328.9h0M1370.3 1328.8h0M1372.4 1328.6h0M1374.5 1328.5h0M1376.6 1328.4h0M1378.7 1328.3h0M1380.8 1328.2h0M1382.9 1328h0M1385.1 1327.9h0M1387.2 1327.8h0M1389.3 1327.7h0M1391.4 1327.5h0M1393.5 1327.4h0M1395.6 1327.3h0M1397.7 1327.1h0M1399.8 1327h0M1401.9 1326.9h0M1404 1326.7h0M1406.1 1326.6h0M1408.2 1326.5h0M1410.3 1326.3h0M1412.4 1326.2h0M1414.5 1326.1h0M1416.6 1325.9h0M1418.7 1325.8h0M1420.8 1325.6h0M1422.9 1325.5h0M1425 1325.3h0M1427.1 1325.2h0M1429.2 1325.1h0M1431.3 1324.9h0M1433.4 1324.8h0M1435.5 1324.6h0M1437.7 1324.5h0M1439.8 1324.3h0M1441.9 1324.1h0M1444 1324h0M1446.1 1323.8h0M1448.2 1323.7h0M1450.3 1323.5h0M1452.4 1323.4h0M1454.5 1323.2h0M1456.6 1323h0M1458.7 1322.9h0M1460.8 1322.7h0M1462.9 1322.6h0M1465 1322.4h0M1467.1 1322.2h0M1469.2 1322.1h0M1471.3 1321.9h0M1473.4 1321.7h0M1475.5 1321.5h0M1477.6 1321.4h0M1479.7 1321.2h0M1481.8 1321h0M1483.9 1320.9h0M1486 1320.7h0M1488.1 1320.5h0M1490.3 1320.3h0M1492.4 1320.1h0M1494.5 1320h0M1496.6 1319.8h0M1498.7 1319.6h0M1500.8 1319.4h0M1502.9 1319.2h0M1505 1319h0M1507.1 1318.9h0M1509.2 1318.7h0M1511.3 1318.5h0M1513.4 1318.3h0M1516.9 1318h0M1519 1317.8h0M1521.1 1317.6h0M1523.2 1317.4h0M1525.3 1317.2h0M1529.5 1316.8h0M1531.6 1316.6h0M1533.7 1316.4h0M1535.8 1316.2h0M1540 1315.8h0M1542.1 1315.6h0" stroke="#000" stroke-width="3.1" stroke-linecap="round" fill="none"/>
<path d="M149.4 927.9h0M157.9 931.9h0M189.4 950.4h0M216.9 964.9h0M223.1 968.7h0M229.2 971.4h0M237.6 975.9h0M242.3 979h0M248.4 981.7h0M265.3 991.3h0M271.6 994h0M294.2 1006.5h0M298.7 1008.7h0M302.8 1010.4h0M342.7 1030.7h0M348.8 1034.3h0M363.5 1041h0M368 1043.2h0M480.3 1094.4h0M1550.8 1314.7h0M1555.3 1314.3h0M1563.6 1313.4h0M1576.7 1312.1h0" stroke="#000" stroke-width="3.7" stroke-linecap="round" fill="none"/>
<text x="55.7" y="1172.4" text-anchor="end" class="t">0.1</text>
<text x="55.7" y="972.1" text-anchor="end" class="t">0.2</text>
<text x="299.2" y="1380.3" text-anchor="middle" class="t">20</text>
<text x="720" y="1380.3" text-anchor="middle" class="t">40</text>
<text x="1140.8" y="1380.3" text-anchor="middle" class="t">60</text>
<text x="1561.6" y="1380.3" text-anchor="middle" class="t">80</text>
<text x="881.4" y="1420.8" text-anchor="middle" class="a">Average THI 86 to 93 days into pregnancy</text>
<text transform="translate(22.9 1081.3) rotate(-90)" text-anchor="middle" class="a">Heritability</text>
<text x="17.9" y="788.7" class="L">B</text>
<rect x="60.7" y="1569.1" width="1589.7" height="546.1" fill="#ebebeb"/>
<path d="M189.6 1569.1V2115.2M647.9 1569.1V2115.2M1106.2 1569.1V2115.2M1564.4 1569.1V2115.2M60.7 2079H1650.4M60.7 1951.6H1650.4M60.7 1819H1650.4M60.7 1686.8H1650.4" stroke="#f1f1f1" stroke-width="0.8" fill="none"/>
<path d="M418.7 1569.1V2115.2M877 1569.1V2115.2M1335.3 1569.1V2115.2M60.7 2016.2H1650.4M60.7 1885.1H1650.4M60.7 1752.9H1650.4M60.7 1620.7H1650.4" stroke="#f7f7f7" stroke-width="1.5" fill="none"/>
<path d="M418.7 2115.2v2.4M877 2115.2v2.4M1335.3 2115.2v2.4M60.7 2016.2h-2.4M60.7 1885.1h-2.4M60.7 1752.9h-2.4M60.7 1620.7h-2.4" stroke="#888" stroke-width="1" fill="none"/>
<path d="M134.9 1593.7V1742.9M183.2 1615.4V1759.7M194.6 1620.9V1764.3M263 1653V1789M290.8 1665.7V1799M341 1689.2V1816.5M368.2 1702.1V1825.6M375.3 1704.8V1828.3M386.7 1712.4V1833.4M409.5 1719.7V1839.2M418.9 1724.6V1842.4M425.6 1727.8V1844.6M439.5 1732.3V1847.3M476.3 1747.2V1857.8M483 1750.1V1859.6M489.9 1752.3V1861.3M505.8 1757.7V1865.1M524.2 1763.4V1868.5M531.2 1766V1870.5M536.2 1767.6V1871.7M549.9 1772.1V1874.7M562.9 1776.2V1877.5M590.6 1785V1883.4M623.2 1795.4V1890.2M648.9 1803.5V1895.4M1459.3 2041.4V2076M1465.6 2040.5V2075.5M1470.7 2039.8V2075.1M1477.4 2038.9V2074.5M1482.3 2038.2V2074.1M1487 2037.5V2073.6M1496.1 2036.2V2072.8M1546.2 2028.7V2068.1M1576.1 2023.9V2065.1M133.1 1593.7h3.6M133.1 1742.9h3.6M181.4 1615.4h3.6M181.4 1759.7h3.6M192.8 1620.9h3.6M192.8 1764.3h3.6M261.2 1653h3.6M261.2 1789h3.6M289 1665.7h3.6M289 1799h3.6M339.2 1689.2h3.6M339.2 1816.5h3.6M366.4 1702.1h3.6M366.4 1825.6h3.6M373.5 1704.8h3.6M373.5 1828.3h3.6M384.9 1712.4h3.6M384.9 1833.4h3.6M407.7 1719.7h3.6M407.7 1839.2h3.6M417.1 1724.6h3.6M417.1 1842.4h3.6M423.8 1727.8h3.6M423.8 1844.6h3.6M437.7 1732.3h3.6M437.7 1847.3h3.6M474.5 1747.2h3.6M474.5 1857.8h3.6M481.2 1750.1h3.6M481.2 1859.6h3.6M488.1 1752.3h3.6M488.1 1861.3h3.6M504 1757.7h3.6M504 1865.1h3.6M522.4 1763.4h3.6M522.4 1868.5h3.6M529.4 1766h3.6M529.4 1870.5h3.6M534.4 1767.6h3.6M534.4 1871.7h3.6M548.1 1772.1h3.6M548.1 1874.7h3.6M561.1 1776.2h3.6M561.1 1877.5h3.6M588.8 1785h3.6M588.8 1883.4h3.6M621.4 1795.4h3.6M621.4 1890.2h3.6M647.1 1803.5h3.6M647.1 1895.4h3.6M1457.5 2041.4h3.6M1457.5 2076h3.6M1463.8 2040.5h3.6M1463.8 2075.5h3.6M1468.9 2039.8h3.6M1468.9 2075.1h3.6M1475.6 2038.9h3.6M1475.6 2074.5h3.6M1480.5 2038.2h3.6M1480.5 2074.1h3.6M1485.2 2037.5h3.6M1485.2 2073.6h3.6M1494.3 2036.2h3.6M1494.3 2072.8h3.6M1544.4 2028.7h3.6M1544.4 2068.1h3.6M1574.3 2023.9h3.6M1574.3 2065.1h3.6" stroke="#383838" stroke-width="1.15" fill="none"/>
<path d="M430.1 1729V1845.2M432.6 1730V1846.4M435 1731V1846.5M450.9 1737.3V1850.9M453.4 1737.4V1850.9M462.3 1741.7V1853.9M464.8 1742.3V1854.2M512.5 1759.7V1866.3M515 1759.5V1866.3M517.5 1761.4V1867.4M539.9 1768.8V1872.5M542.4 1769.6V1873M544.9 1770.4V1873.6M554.5 1773.5V1875.7M556.8 1774.3V1876.2M569.8 1778.4V1879M572.3 1779.2V1879.5M577 1780.7V1880.5M579.3 1781.4V1881M581.6 1782.1V1881.5M583.9 1782.9V1882M595.2 1786.5V1884.4M597.5 1787.2V1884.9M601.5 1788.5V1885.7M603.8 1789.2V1886.2M606.1 1789.9V1886.6M608.4 1790.6V1887.1M610.7 1791.4V1887.6M613 1792.1V1888.1M615.2 1792.8V1888.6M617.5 1793.6V1889M627.7 1796.8V1891.1M630 1797.5V1891.6M632.3 1798.3V1892.1M637.7 1800V1893.2M640 1800.7V1893.6M642.3 1801.4V1894.1M644.6 1802.1V1894.6M653.1 1804.8V1896.3M655.4 1805.5V1896.7M657.7 1806.2V1897.2M663 1807.8V1898.2M665.3 1808.5V1898.6M667.6 1809.2V1899.1M669.9 1809.9V1899.5M672.2 1810.5V1899.9M674.5 1811.2V1900.4M680 1812.8V1901.4M682.3 1813.4V1901.8M684.6 1814.1V1902.2M686.9 1814.7V1902.7M689.2 1815.4V1903.1M691.5 1816V1903.5M700.2 1818.3V1905M702.5 1818.9V1905.4M704.8 1819.4V1905.7M707.1 1820V1906.1M709.4 1820.6V1906.5M711.7 1821.1V1906.9M716.5 1822.2V1907.6M718.8 1822.8V1908M721.1 1823.3V1908.3M723.4 1823.8V1908.7M725.7 1824.3V1909M728 1824.8V1909.3M730.2 1825.2V1909.7M732.5 1825.7V1910M734.8 1826.2V1910.3M739.1 1827V1910.9M741.4 1827.5V1911.2M743.7 1827.9V1911.5M746 1828.4V1911.8M748.3 1828.8V1912.1M750.6 1829.2V1912.3M752.8 1829.7V1912.6M755.1 1830.1V1912.9M757.4 1830.5V1913.1M759.7 1830.9V1913.4M762 1831.3V1913.6M764.3 1831.7V1913.9M766.6 1832.1V1914.1M772 1833V1914.7M774.3 1833.3V1914.9M776.6 1833.7V1915.1M778.9 1834.1V1915.3M781.2 1834.4V1915.5M783.5 1834.8V1915.7M785.7 1835.2V1915.9M788 1835.5V1916M790.3 1835.9V1916.2M792.6 1836.2V1916.4M794.9 1836.6V1916.5M797.2 1836.9V1916.7M799.5 1837.2V1916.8M801.8 1837.6V1917M804.1 1837.9V1917.1M806.4 1838.3V1917.2M808.7 1838.6V1917.3M811 1838.9V1917.4M813.2 1839.3V1917.5M815.5 1839.6V1917.6M817.8 1839.9V1917.7M820.1 1840.2V1917.8M822.4 1840.6V1917.8M824.7 1840.9V1917.9M827 1841.2V1918M829.3 1841.6V1918M831.6 1841.9V1918M833.9 1842.2V1918.1M836.2 1842.5V1918.1M838.5 1842.9V1918.1M840.7 1843.2V1918.1M843 1843.5V1918.1M845.3 1843.9V1918.1M847.6 1844.2V1918.1M849.9 1844.5V1918M852.2 1844.9V1918M854.5 1845.2V1917.9M856.8 1845.6V1917.9M859.1 1845.9V1917.8M861.2 1970.6V2015.5M863.5 1970.7V2015.5M865.8 1970.7V2015.6M868.1 1970.8V2015.6M870.4 1970.9V2015.6M872.7 1970.9V2015.7M874.9 1971V2015.7M877.2 1971V2015.7M879.5 1971.1V2015.8M881.8 1971.2V2015.8M884.1 1971.2V2015.8M886.4 1971.3V2015.8M888.7 1971.3V2015.9M891 1971.4V2015.9M893.3 1971.5V2015.9M895.6 1971.5V2016M897.9 1971.6V2016M900.2 1971.6V2016M902.4 1971.7V2016M904.7 1971.8V2016.1M907 1971.8V2016.1M909.3 1971.9V2016.1M911.6 1971.9V2016.2M913.9 1972V2016.2M916.2 1972V2016.2M918.5 1972.1V2016.3M920.8 1972.2V2016.3M923.1 1972.2V2016.3M925.4 1972.3V2016.3M927.7 1972.3V2016.4M929.9 1972.4V2016.4M932.2 1972.5V2016.4M934.5 1972.5V2016.5M936.8 1972.6V2016.5M939.1 1972.6V2016.5M941.4 1972.7V2016.5M943.7 1972.8V2016.6M946 1972.8V2016.6M948.3 1972.9V2016.6M950.6 1972.9V2016.7M952.9 1973V2016.7M955.2 1973.1V2016.7M957.4 1973.1V2016.8M959.7 1973.2V2016.8M962 1973.2V2016.8M964.3 1973.3V2016.8M966.6 1973.3V2016.9M968.9 1973.4V2016.9M971.2 1973.5V2016.9M973.5 1973.5V2017M975.8 1973.6V2017M978.1 1973.6V2017M980.4 1973.7V2017.1M982.6 1973.8V2017.1M984.9 1973.8V2017.1M987.2 1973.9V2017.1M989.5 1973.9V2017.2M991.8 1974V2017.2M994.1 1974.1V2017.2M996.4 1974.1V2017.3M998.7 1974.2V2017.3M428.3 1729h3.6M428.3 1845.2h3.6M430.8 1730h3.6M430.8 1846.4h3.6M433.2 1731h3.6M433.2 1846.5h3.6M449.1 1737.3h3.6M449.1 1850.9h3.6M451.6 1737.4h3.6M451.6 1850.9h3.6M460.5 1741.7h3.6M460.5 1853.9h3.6M463 1742.3h3.6M463 1854.2h3.6M510.7 1759.7h3.6M510.7 1866.3h3.6M513.2 1759.5h3.6M513.2 1866.3h3.6M515.7 1761.4h3.6M515.7 1867.4h3.6M538.1 1768.8h3.6M538.1 1872.5h3.6M540.6 1769.6h3.6M540.6 1873h3.6M543.1 1770.4h3.6M543.1 1873.6h3.6M552.7 1773.5h3.6M552.7 1875.7h3.6M555 1774.3h3.6M555 1876.2h3.6M568 1778.4h3.6M568 1879h3.6M570.5 1779.2h3.6M570.5 1879.5h3.6M575.2 1780.7h3.6M575.2 1880.5h3.6M577.5 1781.4h3.6M577.5 1881h3.6M579.8 1782.1h3.6M579.8 1881.5h3.6M582.1 1782.9h3.6M582.1 1882h3.6M593.4 1786.5h3.6M593.4 1884.4h3.6M595.7 1787.2h3.6M595.7 1884.9h3.6M599.7 1788.5h3.6M599.7 1885.7h3.6M602 1789.2h3.6M602 1886.2h3.6M604.3 1789.9h3.6M604.3 1886.6h3.6M606.6 1790.6h3.6M606.6 1887.1h3.6M608.9 1791.4h3.6M608.9 1887.6h3.6M611.2 1792.1h3.6M611.2 1888.1h3.6M613.4 1792.8h3.6M613.4 1888.6h3.6M615.7 1793.6h3.6M615.7 1889h3.6M625.9 1796.8h3.6M625.9 1891.1h3.6M628.2 1797.5h3.6M628.2 1891.6h3.6M630.5 1798.3h3.6M630.5 1892.1h3.6M635.9 1800h3.6M635.9 1893.2h3.6M638.2 1800.7h3.6M638.2 1893.6h3.6M640.5 1801.4h3.6M640.5 1894.1h3.6M642.8 1802.1h3.6M642.8 1894.6h3.6M651.3 1804.8h3.6M651.3 1896.3h3.6M653.6 1805.5h3.6M653.6 1896.7h3.6M655.9 1806.2h3.6M655.9 1897.2h3.6M661.2 1807.8h3.6M661.2 1898.2h3.6M663.5 1808.5h3.6M663.5 1898.6h3.6M665.8 1809.2h3.6M665.8 1899.1h3.6M668.1 1809.9h3.6M668.1 1899.5h3.6M670.4 1810.5h3.6M670.4 1899.9h3.6M672.7 1811.2h3.6M672.7 1900.4h3.6M678.2 1812.8h3.6M678.2 1901.4h3.6M680.5 1813.4h3.6M680.5 1901.8h3.6M682.8 1814.1h3.6M682.8 1902.2h3.6M685.1 1814.7h3.6M685.1 1902.7h3.6M687.4 1815.4h3.6M687.4 1903.1h3.6M689.7 1816h3.6M689.7 1903.5h3.6M698.4 1818.3h3.6M698.4 1905h3.6M700.7 1818.9h3.6M700.7 1905.4h3.6M703 1819.4h3.6M703 1905.7h3.6M705.3 1820h3.6M705.3 1906.1h3.6M707.6 1820.6h3.6M707.6 1906.5h3.6M709.9 1821.1h3.6M709.9 1906.9h3.6M714.7 1822.2h3.6M714.7 1907.6h3.6M717 1822.8h3.6M717 1908h3.6M719.3 1823.3h3.6M719.3 1908.3h3.6M721.6 1823.8h3.6M721.6 1908.7h3.6M723.9 1824.3h3.6M723.9 1909h3.6M726.2 1824.8h3.6M726.2 1909.3h3.6M728.4 1825.2h3.6M728.4 1909.7h3.6M730.7 1825.7h3.6M730.7 1910h3.6M733 1826.2h3.6M733 1910.3h3.6M737.3 1827h3.6M737.3 1910.9h3.6M739.6 1827.5h3.6M739.6 1911.2h3.6M741.9 1827.9h3.6M741.9 1911.5h3.6M744.2 1828.4h3.6M744.2 1911.8h3.6M746.5 1828.8h3.6M746.5 1912.1h3.6M748.8 1829.2h3.6M748.8 1912.3h3.6M751 1829.7h3.6M751 1912.6h3.6M753.3 1830.1h3.6M753.3 1912.9h3.6M755.6 1830.5h3.6M755.6 1913.1h3.6M757.9 1830.9h3.6M757.9 1913.4h3.6M760.2 1831.3h3.6M760.2 1913.6h3.6M762.5 1831.7h3.6M762.5 1913.9h3.6M764.8 1832.1h3.6M764.8 1914.1h3.6M770.2 1833h3.6M770.2 1914.7h3.6M772.5 1833.3h3.6M772.5 1914.9h3.6M774.8 1833.7h3.6M774.8 1915.1h3.6M777.1 1834.1h3.6M777.1 1915.3h3.6M779.4 1834.4h3.6M779.4 1915.5h3.6M781.7 1834.8h3.6M781.7 1915.7h3.6M783.9 1835.2h3.6M783.9 1915.9h3.6M786.2 1835.5h3.6M786.2 1916h3.6M788.5 1835.9h3.6M788.5 1916.2h3.6M790.8 1836.2h3.6M790.8 1916.4h3.6M793.1 1836.6h3.6M793.1 1916.5h3.6M795.4 1836.9h3.6M795.4 1916.7h3.6M797.7 1837.2h3.6M797.7 1916.8h3.6M800 1837.6h3.6M800 1917h3.6M802.3 1837.9h3.6M802.3 1917.1h3.6M804.6 1838.3h3.6M804.6 1917.2h3.6M806.9 1838.6h3.6M806.9 1917.3h3.6M809.2 1838.9h3.6M809.2 1917.4h3.6M811.4 1839.3h3.6M811.4 1917.5h3.6M813.7 1839.6h3.6M813.7 1917.6h3.6M816 1839.9h3.6M816 1917.7h3.6M818.3 1840.2h3.6M818.3 1917.8h3.6M820.6 1840.6h3.6M820.6 1917.8h3.6M822.9 1840.9h3.6M822.9 1917.9h3.6M825.2 1841.2h3.6M825.2 1918h3.6M827.5 1841.6h3.6M827.5 1918h3.6M829.8 1841.9h3.6M829.8 1918h3.6M832.1 1842.2h3.6M832.1 1918.1h3.6M834.4 1842.5h3.6M834.4 1918.1h3.6M836.7 1842.9h3.6M836.7 1918.1h3.6M838.9 1843.2h3.6M838.9 1918.1h3.6M841.2 1843.5h3.6M841.2 1918.1h3.6M843.5 1843.9h3.6M843.5 1918.1h3.6M845.8 1844.2h3.6M845.8 1918.1h3.6M848.1 1844.5h3.6M848.1 1918h3.6M850.4 1844.9h3.6M850.4 1918h3.6M852.7 1845.2h3.6M852.7 1917.9h3.6M855 1845.6h3.6M855 1917.9h3.6M857.3 1845.9h3.6M857.3 1917.8h3.6M859.4 1970.6h3.6M859.4 2015.5h3.6M861.7 1970.7h3.6M861.7 2015.5h3.6M864 1970.7h3.6M864 2015.6h3.6M866.3 1970.8h3.6M866.3 2015.6h3.6M868.6 1970.9h3.6M868.6 2015.6h3.6M870.9 1970.9h3.6M870.9 2015.7h3.6M873.1 1971h3.6M873.1 2015.7h3.6M875.4 1971h3.6M875.4 2015.7h3.6M877.7 1971.1h3.6M877.7 2015.8h3.6M880 1971.2h3.6M880 2015.8h3.6M882.3 1971.2h3.6M882.3 2015.8h3.6M884.6 1971.3h3.6M884.6 2015.8h3.6M886.9 1971.3h3.6M886.9 2015.9h3.6M889.2 1971.4h3.6M889.2 2015.9h3.6M891.5 1971.5h3.6M891.5 2015.9h3.6M893.8 1971.5h3.6M893.8 2016h3.6M896.1 1971.6h3.6M896.1 2016h3.6M898.4 1971.6h3.6M898.4 2016h3.6M900.6 1971.7h3.6M900.6 2016h3.6M902.9 1971.8h3.6M902.9 2016.1h3.6M905.2 1971.8h3.6M905.2 2016.1h3.6M907.5 1971.9h3.6M907.5 2016.1h3.6M909.8 1971.9h3.6M909.8 2016.2h3.6M912.1 1972h3.6M912.1 2016.2h3.6M914.4 1972h3.6M914.4 2016.2h3.6M916.7 1972.1h3.6M916.7 2016.3h3.6M919 1972.2h3.6M919 2016.3h3.6M921.3 1972.2h3.6M921.3 2016.3h3.6M923.6 1972.3h3.6M923.6 2016.3h3.6M925.9 1972.3h3.6M925.9 2016.4h3.6M928.1 1972.4h3.6M928.1 2016.4h3.6M930.4 1972.5h3.6M930.4 2016.4h3.6M932.7 1972.5h3.6M932.7 2016.5h3.6M935 1972.6h3.6M935 2016.5h3.6M937.3 1972.6h3.6M937.3 2016.5h3.6M939.6 1972.7h3.6M939.6 2016.5h3.6M941.9 1972.8h3.6M941.9 2016.6h3.6M944.2 1972.8h3.6M944.2 2016.6h3.6M946.5 1972.9h3.6M946.5 2016.6h3.6M948.8 1972.9h3.6M948.8 2016.7h3.6M951.1 1973h3.6M951.1 2016.7h3.6M953.4 1973.1h3.6M953.4 2016.7h3.6M955.6 1973.1h3.6M955.6 2016.8h3.6M957.9 1973.2h3.6M957.9 2016.8h3.6M960.2 1973.2h3.6M960.2 2016.8h3.6M962.5 1973.3h3.6M962.5 2016.8h3.6M964.8 1973.3h3.6M964.8 2016.9h3.6M967.1 1973.4h3.6M967.1 2016.9h3.6M969.4 1973.5h3.6M969.4 2016.9h3.6M971.7 1973.5h3.6M971.7 2017h3.6M974 1973.6h3.6M974 2017h3.6M976.3 1973.6h3.6M976.3 2017h3.6M978.6 1973.7h3.6M978.6 2017.1h3.6M980.8 1973.8h3.6M980.8 2017.1h3.6M983.1 1973.8h3.6M983.1 2017.1h3.6M985.4 1973.9h3.6M985.4 2017.1h3.6M987.7 1973.9h3.6M987.7 2017.2h3.6M990 1974h3.6M990 2017.2h3.6M992.3 1974.1h3.6M992.3 2017.2h3.6M994.6 1974.1h3.6M994.6 2017.3h3.6M996.9 1974.2h3.6M996.9 2017.3h3.6" stroke="#333" stroke-width="1.4" fill="none"/>
<path d="M1001 2026.3V2056.7M1003.3 2026.2V2056.6M1005.6 2026.1V2056.5M1007.9 2026V2056.5M1010.2 2025.9V2056.4M1012.5 2025.8V2056.4M1014.7 2025.8V2056.3M1017 2025.7V2056.2M1019.3 2025.6V2056.2M1021.6 2025.5V2056.1M1023.9 2025.4V2056M1026.2 2025.4V2056M1028.5 2025.3V2055.9M1030.8 2025.2V2055.9M1033.1 2025.1V2055.8M1035.4 2025V2055.7M1037.7 2025V2055.7M1040 2024.9V2055.6M1042.2 2024.8V2055.6M1044.5 2024.7V2055.5M1046.8 2024.6V2055.4M1049.1 2024.6V2055.4M1051.4 2024.5V2055.3M1053.7 2024.4V2055.2M1056 2024.3V2055.2M1058.3 2024.2V2055.1M1060.6 2024.2V2055.1M1062.9 2024.1V2055M1065.2 2024V2054.9M1067.5 2023.9V2054.9M1069.7 2023.8V2054.8M1072 2023.7V2054.7M1074.3 2023.7V2054.7M1076.6 2023.6V2054.6M1078.9 2023.5V2054.6M1081.2 2023.4V2054.5M1083.5 2023.3V2054.4M1085.8 2023.3V2054.4M1088.1 2023.2V2054.3M1090.4 2023.1V2054.3M1092.7 2023V2054.2M1095 2022.9V2054.1M1097.5 2039.3V2068.3M1099.8 2039.1V2068.2M1102.1 2039V2068.1M1104.4 2038.8V2068M1106.7 2038.6V2067.9M1109 2038.5V2067.8M1111.2 2038.3V2067.7M1113.5 2038.1V2067.6M1115.8 2038V2067.5M1118.1 2037.8V2067.3M1120.4 2037.6V2067.2M1122.7 2037.5V2067.1M1125 2037.3V2067M1127.3 2037.1V2066.9M1129.6 2037V2066.8M1131.9 2036.8V2066.7M1134.2 2036.6V2066.6M1136.5 2036.5V2066.5M1138.7 2036.3V2066.3M1141 2036.1V2066.2M1143.3 2036V2066.1M1145.6 2035.8V2066M1147.9 2035.6V2065.9M1150.2 2035.5V2065.8M1152.5 2035.3V2065.7M1154.8 2035.1V2065.6M1157.1 2035V2065.5M1159.4 2034.8V2065.3M1161.7 2034.6V2065.2M1164 2034.5V2065.1M1166.2 2034.3V2065M1168.5 2034.1V2064.9M1170.8 2034V2064.8M1173.1 2033.8V2064.7M1175.4 2033.6V2064.6M1177.7 2033.5V2064.4M1180 2033.3V2064.3M1182.3 2033.1V2064.2M1184.6 2033V2064.1M1186.9 2032.8V2064M1189.2 2032.6V2063.9M1191.5 2032.5V2063.8M1193.7 2032.3V2063.7M1196 2032.1V2063.6M1198.3 2032V2063.4M1200.6 2031.8V2063.3M1202.9 2031.6V2063.2M1205.2 2031.5V2063.1M1207.5 2031.3V2063M1209.8 2031.1V2062.9M1212.1 2031V2062.8M1214.4 2030.8V2062.7M999.2 2026.3h3.6M999.2 2056.7h3.6M1001.5 2026.2h3.6M1001.5 2056.6h3.6M1003.8 2026.1h3.6M1003.8 2056.5h3.6M1006.1 2026h3.6M1006.1 2056.5h3.6M1008.4 2025.9h3.6M1008.4 2056.4h3.6M1010.7 2025.8h3.6M1010.7 2056.4h3.6M1012.9 2025.8h3.6M1012.9 2056.3h3.6M1015.2 2025.7h3.6M1015.2 2056.2h3.6M1017.5 2025.6h3.6M1017.5 2056.2h3.6M1019.8 2025.5h3.6M1019.8 2056.1h3.6M1022.1 2025.4h3.6M1022.1 2056h3.6M1024.4 2025.4h3.6M1024.4 2056h3.6M1026.7 2025.3h3.6M1026.7 2055.9h3.6M1029 2025.2h3.6M1029 2055.9h3.6M1031.3 2025.1h3.6M1031.3 2055.8h3.6M1033.6 2025h3.6M1033.6 2055.7h3.6M1035.9 2025h3.6M1035.9 2055.7h3.6M1038.2 2024.9h3.6M1038.2 2055.6h3.6M1040.4 2024.8h3.6M1040.4 2055.6h3.6M1042.7 2024.7h3.6M1042.7 2055.5h3.6M1045 2024.6h3.6M1045 2055.4h3.6M1047.3 2024.6h3.6M1047.3 2055.4h3.6M1049.6 2024.5h3.6M1049.6 2055.3h3.6M1051.9 2024.4h3.6M1051.9 2055.2h3.6M1054.2 2024.3h3.6M1054.2 2055.2h3.6M1056.5 2024.2h3.6M1056.5 2055.1h3.6M1058.8 2024.2h3.6M1058.8 2055.1h3.6M1061.1 2024.1h3.6M1061.1 2055h3.6M1063.4 2024h3.6M1063.4 2054.9h3.6M1065.7 2023.9h3.6M1065.7 2054.9h3.6M1067.9 2023.8h3.6M1067.9 2054.8h3.6M1070.2 2023.7h3.6M1070.2 2054.7h3.6M1072.5 2023.7h3.6M1072.5 2054.7h3.6M1074.8 2023.6h3.6M1074.8 2054.6h3.6M1077.1 2023.5h3.6M1077.1 2054.6h3.6M1079.4 2023.4h3.6M1079.4 2054.5h3.6M1081.7 2023.3h3.6M1081.7 2054.4h3.6M1084 2023.3h3.6M1084 2054.4h3.6M1086.3 2023.2h3.6M1086.3 2054.3h3.6M1088.6 2023.1h3.6M1088.6 2054.3h3.6M1090.9 2023h3.6M1090.9 2054.2h3.6M1093.2 2022.9h3.6M1093.2 2054.1h3.6M1095.7 2039.3h3.6M1095.7 2068.3h3.6M1098 2039.1h3.6M1098 2068.2h3.6M1100.3 2039h3.6M1100.3 2068.1h3.6M1102.6 2038.8h3.6M1102.6 2068h3.6M1104.9 2038.6h3.6M1104.9 2067.9h3.6M1107.2 2038.5h3.6M1107.2 2067.8h3.6M1109.4 2038.3h3.6M1109.4 2067.7h3.6M1111.7 2038.1h3.6M1111.7 2067.6h3.6M1114 2038h3.6M1114 2067.5h3.6M1116.3 2037.8h3.6M1116.3 2067.3h3.6M1118.6 2037.6h3.6M1118.6 2067.2h3.6M1120.9 2037.5h3.6M1120.9 2067.1h3.6M1123.2 2037.3h3.6M1123.2 2067h3.6M1125.5 2037.1h3.6M1125.5 2066.9h3.6M1127.8 2037h3.6M1127.8 2066.8h3.6M1130.1 2036.8h3.6M1130.1 2066.7h3.6M1132.4 2036.6h3.6M1132.4 2066.6h3.6M1134.7 2036.5h3.6M1134.7 2066.5h3.6M1136.9 2036.3h3.6M1136.9 2066.3h3.6M1139.2 2036.1h3.6M1139.2 2066.2h3.6M1141.5 2036h3.6M1141.5 2066.1h3.6M1143.8 2035.8h3.6M1143.8 2066h3.6M1146.1 2035.6h3.6M1146.1 2065.9h3.6M1148.4 2035.5h3.6M1148.4 2065.8h3.6M1150.7 2035.3h3.6M1150.7 2065.7h3.6M1153 2035.1h3.6M1153 2065.6h3.6M1155.3 2035h3.6M1155.3 2065.5h3.6M1157.6 2034.8h3.6M1157.6 2065.3h3.6M1159.9 2034.6h3.6M1159.9 2065.2h3.6M1162.2 2034.5h3.6M1162.2 2065.1h3.6M1164.4 2034.3h3.6M1164.4 2065h3.6M1166.7 2034.1h3.6M1166.7 2064.9h3.6M1169 2034h3.6M1169 2064.8h3.6M1171.3 2033.8h3.6M1171.3 2064.7h3.6M1173.6 2033.6h3.6M1173.6 2064.6h3.6M1175.9 2033.5h3.6M1175.9 2064.4h3.6M1178.2 2033.3h3.6M1178.2 2064.3h3.6M1180.5 2033.1h3.6M1180.5 2064.2h3.6M1182.8 2033h3.6M1182.8 2064.1h3.6M1185.1 2032.8h3.6M1185.1 2064h3.6M1187.4 2032.6h3.6M1187.4 2063.9h3.6M1189.7 2032.5h3.6M1189.7 2063.8h3.6M1191.9 2032.3h3.6M1191.9 2063.7h3.6M1194.2 2032.1h3.6M1194.2 2063.6h3.6M1196.5 2032h3.6M1196.5 2063.4h3.6M1198.8 2031.8h3.6M1198.8 2063.3h3.6M1201.1 2031.6h3.6M1201.1 2063.2h3.6M1203.4 2031.5h3.6M1203.4 2063.1h3.6M1205.7 2031.3h3.6M1205.7 2063h3.6M1208 2031.1h3.6M1208 2062.9h3.6M1210.3 2031h3.6M1210.3 2062.8h3.6M1212.6 2030.8h3.6M1212.6 2062.7h3.6" stroke="#2a2a2a" stroke-width="1.5" fill="none"/>
<path d="M1217 2067.4V2090.8M1219.3 2067.3V2090.8M1221.6 2067.1V2090.7M1223.9 2066.9V2090.6M1226.2 2066.7V2090.5M1228.5 2066.5V2090.4M1230.7 2066.3V2090.3M1233 2066.1V2090.2M1235.3 2066V2090.1M1237.6 2065.8V2090M1239.9 2065.6V2089.9M1242.2 2065.4V2089.8M1244.5 2065.2V2089.7M1246.8 2065V2089.6M1249.1 2064.8V2089.5M1251.4 2064.6V2089.4M1253.7 2064.4V2089.3M1256 2064.2V2089.2M1258.2 2064V2089.1M1260.5 2063.8V2089M1262.8 2063.6V2088.8M1265.1 2063.4V2088.7M1267.4 2063.2V2088.6M1269.7 2062.9V2088.5M1272 2062.7V2088.4M1274.3 2062.5V2088.3M1276.6 2062.3V2088.2M1278.9 2062.1V2088.1M1281.2 2061.9V2087.9M1283.5 2061.7V2087.8M1288 2061.2V2087.6M1290.3 2061V2087.5M1292.6 2060.8V2087.3M1294.9 2060.6V2087.2M1299.5 2060.1V2087M1301.8 2059.9V2086.8M1304.1 2059.7V2086.7M1306.4 2059.4V2086.6M1308.7 2059.2V2086.5M1311 2059V2086.3M1313.2 2058.7V2086.2M1315.5 2058.5V2086.1M1317.8 2058.3V2085.9M1320.1 2058V2085.8M1322.4 2057.8V2085.7M1324.7 2057.6V2085.5M1327 2057.3V2085.4M1329.3 2057.1V2085.3M1331.6 2056.8V2085.1M1336.2 2056.3V2084.9M1338.4 2056.1V2084.7M1340.7 2055.8V2084.6M1345.3 2055.4V2084.3M1347.6 2055.1V2084.2M1349.9 2054.8V2084M1352.2 2054.6V2083.9M1354.5 2054.3V2083.7M1356.8 2054.1V2083.6M1359.1 2053.8V2083.4M1363.7 2053.3V2083.1M1365.9 2053V2083M1368.2 2052.8V2082.8M1370.5 2052.5V2082.7M1372.8 2052.3V2082.5M1375.1 2052V2082.4M1377.4 2051.7V2082.2M1379.7 2051.5V2082M1384.3 2050.9V2081.7M1386.6 2050.6V2081.6M1388.9 2050.4V2081.4M1391.2 2050.1V2081.2M1393.4 2049.8V2081.1M1395.7 2049.5V2080.9M1398 2049.3V2080.8M1400.3 2049V2080.6M1402.6 2048.7V2080.4M1407.2 2048.1V2080.1M1409.5 2047.9V2079.9M1411.8 2047.6V2079.7M1416.4 2047V2079.4M1418.7 2046.7V2079.2M1420.9 2046.4V2079.1M1423.2 2046.1V2078.9M1427.8 2045.5V2078.5M1430.1 2045.2V2078.4M1432.4 2045V2078.2M1434.7 2044.7V2078M1437 2044.4V2077.8M1439.3 2044.1V2077.6M1449.3 2042.7V2076.8M1451.6 2042.4V2076.6M1453.9 2042.1V2076.5M1456 2041.8V2076.3M1215.2 2067.4h3.6M1215.2 2090.8h3.6M1217.5 2067.3h3.6M1217.5 2090.8h3.6M1219.8 2067.1h3.6M1219.8 2090.7h3.6M1222.1 2066.9h3.6M1222.1 2090.6h3.6M1224.4 2066.7h3.6M1224.4 2090.5h3.6M1226.7 2066.5h3.6M1226.7 2090.4h3.6M1228.9 2066.3h3.6M1228.9 2090.3h3.6M1231.2 2066.1h3.6M1231.2 2090.2h3.6M1233.5 2066h3.6M1233.5 2090.1h3.6M1235.8 2065.8h3.6M1235.8 2090h3.6M1238.1 2065.6h3.6M1238.1 2089.9h3.6M1240.4 2065.4h3.6M1240.4 2089.8h3.6M1242.7 2065.2h3.6M1242.7 2089.7h3.6M1245 2065h3.6M1245 2089.6h3.6M1247.3 2064.8h3.6M1247.3 2089.5h3.6M1249.6 2064.6h3.6M1249.6 2089.4h3.6M1251.9 2064.4h3.6M1251.9 2089.3h3.6M1254.2 2064.2h3.6M1254.2 2089.2h3.6M1256.4 2064h3.6M1256.4 2089.1h3.6M1258.7 2063.8h3.6M1258.7 2089h3.6M1261 2063.6h3.6M1261 2088.8h3.6M1263.3 2063.4h3.6M1263.3 2088.7h3.6M1265.6 2063.2h3.6M1265.6 2088.6h3.6M1267.9 2062.9h3.6M1267.9 2088.5h3.6M1270.2 2062.7h3.6M1270.2 2088.4h3.6M1272.5 2062.5h3.6M1272.5 2088.3h3.6M1274.8 2062.3h3.6M1274.8 2088.2h3.6M1277.1 2062.1h3.6M1277.1 2088.1h3.6M1279.4 2061.9h3.6M1279.4 2087.9h3.6M1281.7 2061.7h3.6M1281.7 2087.8h3.6M1286.2 2061.2h3.6M1286.2 2087.6h3.6M1288.5 2061h3.6M1288.5 2087.5h3.6M1290.8 2060.8h3.6M1290.8 2087.3h3.6M1293.1 2060.6h3.6M1293.1 2087.2h3.6M1297.7 2060.1h3.6M1297.7 2087h3.6M1300 2059.9h3.6M1300 2086.8h3.6M1302.3 2059.7h3.6M1302.3 2086.7h3.6M1304.6 2059.4h3.6M1304.6 2086.6h3.6M1306.9 2059.2h3.6M1306.9 2086.5h3.6M1309.2 2059h3.6M1309.2 2086.3h3.6M1311.4 2058.7h3.6M1311.4 2086.2h3.6M1313.7 2058.5h3.6M1313.7 2086.1h3.6M1316 2058.3h3.6M1316 2085.9h3.6M1318.3 2058h3.6M1318.3 2085.8h3.6M1320.6 2057.8h3.6M1320.6 2085.7h3.6M1322.9 2057.6h3.6M1322.9 2085.5h3.6M1325.2 2057.3h3.6M1325.2 2085.4h3.6M1327.5 2057.1h3.6M1327.5 2085.3h3.6M1329.8 2056.8h3.6M1329.8 2085.1h3.6M1334.4 2056.3h3.6M1334.4 2084.9h3.6M1336.6 2056.1h3.6M1336.6 2084.7h3.6M1338.9 2055.8h3.6M1338.9 2084.6h3.6M1343.5 2055.4h3.6M1343.5 2084.3h3.6M1345.8 2055.1h3.6M1345.8 2084.2h3.6M1348.1 2054.8h3.6M1348.1 2084h3.6M1350.4 2054.6h3.6M1350.4 2083.9h3.6M1352.7 2054.3h3.6M1352.7 2083.7h3.6M1355 2054.1h3.6M1355 2083.6h3.6M1357.3 2053.8h3.6M1357.3 2083.4h3.6M1361.9 2053.3h3.6M1361.9 2083.1h3.6M1364.1 2053h3.6M1364.1 2083h3.6M1366.4 2052.8h3.6M1366.4 2082.8h3.6M1368.7 2052.5h3.6M1368.7 2082.7h3.6M1371 2052.3h3.6M1371 2082.5h3.6M1373.3 2052h3.6M1373.3 2082.4h3.6M1375.6 2051.7h3.6M1375.6 2082.2h3.6M1377.9 2051.5h3.6M1377.9 2082h3.6M1382.5 2050.9h3.6M1382.5 2081.7h3.6M1384.8 2050.6h3.6M1384.8 2081.6h3.6M1387.1 2050.4h3.6M1387.1 2081.4h3.6M1389.4 2050.1h3.6M1389.4 2081.2h3.6M1391.6 2049.8h3.6M1391.6 2081.1h3.6M1393.9 2049.5h3.6M1393.9 2080.9h3.6M1396.2 2049.3h3.6M1396.2 2080.8h3.6M1398.5 2049h3.6M1398.5 2080.6h3.6M1400.8 2048.7h3.6M1400.8 2080.4h3.6M1405.4 2048.1h3.6M1405.4 2080.1h3.6M1407.7 2047.9h3.6M1407.7 2079.9h3.6M1410 2047.6h3.6M1410 2079.7h3.6M1414.6 2047h3.6M1414.6 2079.4h3.6M1416.9 2046.7h3.6M1416.9 2079.2h3.6M1419.1 2046.4h3.6M1419.1 2079.1h3.6M1421.4 2046.1h3.6M1421.4 2078.9h3.6M1426 2045.5h3.6M1426 2078.5h3.6M1428.3 2045.2h3.6M1428.3 2078.4h3.6M1430.6 2045h3.6M1430.6 2078.2h3.6M1432.9 2044.7h3.6M1432.9 2078h3.6M1435.2 2044.4h3.6M1435.2 2077.8h3.6M1437.5 2044.1h3.6M1437.5 2077.6h3.6M1447.5 2042.7h3.6M1447.5 2076.8h3.6M1449.8 2042.4h3.6M1449.8 2076.6h3.6M1452.1 2042.1h3.6M1452.1 2076.5h3.6M1454.2 2041.8h3.6M1454.2 2076.3h3.6" stroke="#1a1a1a" stroke-width="1.6" fill="none"/>
<path d="M430.1 1786.6h0M432.6 1787.6h0M435 1788.2h0M450.9 1793.7h0M453.4 1793.9h0M462.3 1797.5h0M464.8 1797.9h0M512.5 1813.7h0M515 1814.4h0M517.5 1815.3h0M539.9 1822h0M542.4 1822.8h0M544.9 1823.5h0M554.5 1826.3h0M556.8 1827h0M569.8 1830.7h0M572.3 1831.4h0M577 1832.7h0M579.3 1833.3h0M581.6 1833.9h0M583.9 1834.6h0M595.2 1837.6h0M597.5 1838.2h0M601.5 1839.3h0M603.8 1839.9h0M606.1 1840.5h0M608.4 1841.1h0M610.7 1841.7h0M613 1842.2h0M615.2 1842.8h0M617.5 1843.4h0M627.7 1845.9h0M630 1846.5h0M632.3 1847.1h0M637.7 1848.4h0M640 1848.9h0M642.3 1849.5h0M644.6 1850h0M653.1 1852h0M655.4 1852.5h0M657.7 1853.1h0M663 1854.3h0M665.3 1854.8h0M667.6 1855.3h0M669.9 1855.8h0M672.2 1856.3h0M674.5 1856.8h0M680 1858h0M682.3 1858.5h0M684.6 1858.9h0M686.9 1859.4h0M689.2 1859.9h0M691.5 1860.4h0M700.2 1862.1h0M702.5 1862.6h0M704.8 1863h0M707.1 1863.5h0M709.4 1863.9h0M711.7 1864.3h0M716.5 1865.3h0M718.8 1865.7h0M721.1 1866.1h0M723.4 1866.5h0M725.7 1866.9h0M728 1867.4h0M730.2 1867.8h0M732.5 1868.2h0M734.8 1868.6h0M739.1 1869.3h0M741.4 1869.7h0M743.7 1870.1h0M746 1870.5h0M748.3 1870.8h0M750.6 1871.2h0M752.8 1871.6h0M755.1 1871.9h0M757.4 1872.3h0M759.7 1872.7h0M762 1873h0M764.3 1873.4h0M766.6 1873.7h0M772 1874.5h0M774.3 1874.8h0M776.6 1875.2h0M778.9 1875.5h0M781.2 1875.8h0M783.5 1876.1h0M785.7 1876.4h0M788 1876.7h0M790.3 1877h0M792.6 1877.3h0M794.9 1877.6h0M797.2 1877.9h0M799.5 1878.2h0M801.8 1878.5h0M804.1 1878.8h0M806.4 1879h0M808.7 1879.3h0M811 1879.6h0M813.2 1879.8h0M815.5 1880.1h0M817.8 1880.3h0M820.1 1880.6h0M822.4 1880.8h0M824.7 1881.1h0M827 1881.3h0M829.3 1881.5h0M831.6 1881.7h0M833.9 1882h0M836.2 1882.2h0M838.5 1882.4h0M840.7 1882.6h0M843 1882.8h0M845.3 1883h0M847.6 1883.2h0M849.9 1883.4h0M852.2 1883.6h0M854.5 1883.7h0M856.8 1883.9h0M859.1 1884.1h0M861.2 1993.4h0M863.5 1993.4h0M865.8 1993.5h0M868.1 1993.5h0M870.4 1993.5h0M872.7 1993.6h0M874.9 1993.6h0M877.2 1993.6h0M879.5 1993.7h0M881.8 1993.7h0M884.1 1993.7h0M886.4 1993.7h0M888.7 1993.8h0M891 1993.8h0M893.3 1993.8h0M895.6 1993.9h0M897.9 1993.9h0M900.2 1993.9h0M902.4 1993.9h0M904.7 1994h0M907 1994h0M909.3 1994h0M911.6 1994.1h0M913.9 1994.1h0M916.2 1994.1h0M918.5 1994.2h0M920.8 1994.2h0M923.1 1994.2h0M925.4 1994.2h0M927.7 1994.3h0M929.9 1994.3h0M932.2 1994.3h0M934.5 1994.4h0M936.8 1994.4h0M939.1 1994.4h0M941.4 1994.4h0M943.7 1994.5h0M946 1994.5h0M948.3 1994.5h0M950.6 1994.6h0M952.9 1994.6h0M955.2 1994.6h0M957.4 1994.7h0M959.7 1994.7h0M962 1994.7h0M964.3 1994.7h0M966.6 1994.8h0M968.9 1994.8h0M971.2 1994.8h0M973.5 1994.9h0M975.8 1994.9h0M978.1 1994.9h0M980.4 1995h0M982.6 1995h0M984.9 1995h0M987.2 1995h0M989.5 1995.1h0M991.8 1995.1h0M994.1 1995.1h0M996.4 1995.2h0M998.7 1995.2h0M1001 2042.3h0M1003.3 2042.2h0M1005.6 2042.1h0M1007.9 2042.1h0M1010.2 2042h0M1012.5 2041.9h0M1014.7 2041.8h0M1017 2041.8h0M1019.3 2041.7h0M1021.6 2041.6h0M1023.9 2041.6h0M1026.2 2041.5h0M1028.5 2041.4h0M1030.8 2041.4h0M1033.1 2041.3h0M1035.4 2041.2h0M1037.7 2041.2h0M1040 2041.1h0M1042.2 2041h0M1044.5 2040.9h0M1046.8 2040.9h0M1049.1 2040.8h0M1051.4 2040.7h0M1053.7 2040.7h0M1056 2040.6h0M1058.3 2040.5h0M1060.6 2040.5h0M1062.9 2040.4h0M1065.2 2040.3h0M1067.5 2040.3h0M1069.7 2040.2h0M1072 2040.1h0M1074.3 2040.1h0M1076.6 2040h0M1078.9 2039.9h0M1081.2 2039.8h0M1083.5 2039.8h0M1085.8 2039.7h0M1088.1 2039.6h0M1090.4 2039.6h0M1092.7 2039.5h0M1095 2039.4h0M1097.5 2054.2h0M1099.8 2054.1h0M1102.1 2053.9h0M1104.4 2053.8h0M1106.7 2053.7h0M1109 2053.5h0M1111.2 2053.4h0M1113.5 2053.2h0M1115.8 2053.1h0M1118.1 2053h0M1120.4 2052.8h0M1122.7 2052.7h0M1125 2052.5h0M1127.3 2052.4h0M1129.6 2052.3h0M1131.9 2052.1h0M1134.2 2052h0M1136.5 2051.8h0M1138.7 2051.7h0M1141 2051.6h0M1143.3 2051.4h0M1145.6 2051.3h0M1147.9 2051.1h0M1150.2 2051h0M1152.5 2050.9h0M1154.8 2050.7h0M1157.1 2050.6h0M1159.4 2050.4h0M1161.7 2050.3h0M1164 2050.2h0M1166.2 2050h0M1168.5 2049.9h0M1170.8 2049.7h0M1173.1 2049.6h0M1175.4 2049.5h0M1177.7 2049.3h0M1180 2049.2h0M1182.3 2049h0M1184.6 2048.9h0M1186.9 2048.8h0M1189.2 2048.6h0M1191.5 2048.5h0M1193.7 2048.3h0M1196 2048.2h0M1198.3 2048.1h0M1200.6 2047.9h0M1202.9 2047.8h0M1205.2 2047.6h0M1207.5 2047.5h0M1209.8 2047.4h0M1212.1 2047.2h0M1214.4 2047.1h0M1217 2079.1h0M1219.3 2078.9h0M1221.6 2078.8h0M1223.9 2078.7h0M1226.2 2078.6h0M1228.5 2078.4h0M1230.7 2078.3h0M1233 2078.2h0M1235.3 2078h0M1237.6 2077.9h0M1239.9 2077.8h0M1242.2 2077.6h0M1244.5 2077.5h0M1246.8 2077.3h0M1249.1 2077.2h0M1251.4 2077.1h0M1253.7 2076.9h0M1256 2076.8h0M1258.2 2076.6h0M1260.5 2076.5h0M1262.8 2076.3h0M1265.1 2076.2h0M1267.4 2076h0M1269.7 2075.9h0M1272 2075.7h0M1274.3 2075.6h0M1276.6 2075.4h0M1278.9 2075.3h0M1281.2 2075.1h0M1283.5 2075h0M1288 2074.6h0M1290.3 2074.5h0M1292.6 2074.3h0M1294.9 2074.2h0M1299.5 2073.8h0M1301.8 2073.7h0M1304.1 2073.5h0M1306.4 2073.3h0M1308.7 2073.2h0M1311 2073h0M1313.2 2072.8h0M1315.5 2072.6h0M1317.8 2072.5h0M1320.1 2072.3h0M1322.4 2072.1h0M1324.7 2071.9h0M1327 2071.7h0M1329.3 2071.6h0M1331.6 2071.4h0M1336.2 2071h0M1338.4 2070.8h0M1340.7 2070.6h0M1345.3 2070.3h0M1347.6 2070.1h0M1349.9 2069.9h0M1352.2 2069.7h0M1354.5 2069.5h0M1356.8 2069.3h0M1359.1 2069.1h0M1363.7 2068.7h0M1365.9 2068.5h0M1368.2 2068.3h0M1370.5 2068.1h0M1372.8 2067.9h0M1375.1 2067.7h0M1377.4 2067.5h0M1379.7 2067.3h0M1384.3 2066.9h0M1386.6 2066.6h0M1388.9 2066.4h0M1391.2 2066.2h0M1393.4 2066h0M1395.7 2065.8h0M1398 2065.6h0M1400.3 2065.4h0M1402.6 2065.1h0M1407.2 2064.7h0M1409.5 2064.5h0M1411.8 2064.2h0M1416.4 2063.8h0M1418.7 2063.6h0M1420.9 2063.3h0M1423.2 2063.1h0M1427.8 2062.7h0M1430.1 2062.4h0M1432.4 2062.2h0M1434.7 2061.9h0M1437 2061.7h0M1439.3 2061.5h0M1449.3 2060.4h0M1451.6 2060.2h0M1453.9 2059.9h0M1456 2059.7h0" stroke="#000" stroke-width="3.1" stroke-linecap="round" fill="none"/>
<path d="M134.9 1671.6h0M183.2 1690.9h0M194.6 1696.4h0M263 1723.7h0M290.8 1734.2h0M341 1753.7h0M368.2 1764.4h0M375.3 1767.1h0M386.7 1771.6h0M409.5 1779.4h0M418.9 1783h0M425.6 1784.8h0M439.5 1789.6h0M476.3 1802.4h0M483 1804.2h0M489.9 1806.6h0M505.8 1812h0M524.2 1817.6h0M531.2 1819.4h0M536.2 1820.9h0M549.9 1825h0M562.9 1828.7h0M590.6 1836.4h0M623.2 1844.8h0M648.9 1851h0M1459.3 2059.3h0M1465.6 2058.7h0M1470.7 2058.1h0M1477.4 2057.3h0M1482.3 2056.8h0M1487 2056.3h0M1496.1 2055.2h0M1546.2 2049.1h0M1576.1 2045.1h0" stroke="#000" stroke-width="3.7" stroke-linecap="round" fill="none"/>
<text x="55.7" y="2016.8" text-anchor="end" class="t">0.1</text>
<text x="55.7" y="1885.7" text-anchor="end" class="t">0.2</text>
<text x="55.7" y="1753.5" text-anchor="end" class="t">0.3</text>
<text x="55.7" y="1621.3" text-anchor="end" class="t">0.4</text>
<text x="418.7" y="2132.7" text-anchor="middle" class="t">40</text>
<text x="877" y="2132.7" text-anchor="middle" class="t">60</text>
<text x="1335.3" y="2132.7" text-anchor="middle" class="t">80</text>
<text x="878.6" y="2172.7" text-anchor="middle" class="a">Average Relative Humidity 107 to 114 days into pregnancy</text>
<text transform="translate(22.9 1834) rotate(-90)" text-anchor="middle" class="a">Heritability</text>
<text x="17.3" y="1523.9" class="L">C</text>
</svg>
</body></html>
